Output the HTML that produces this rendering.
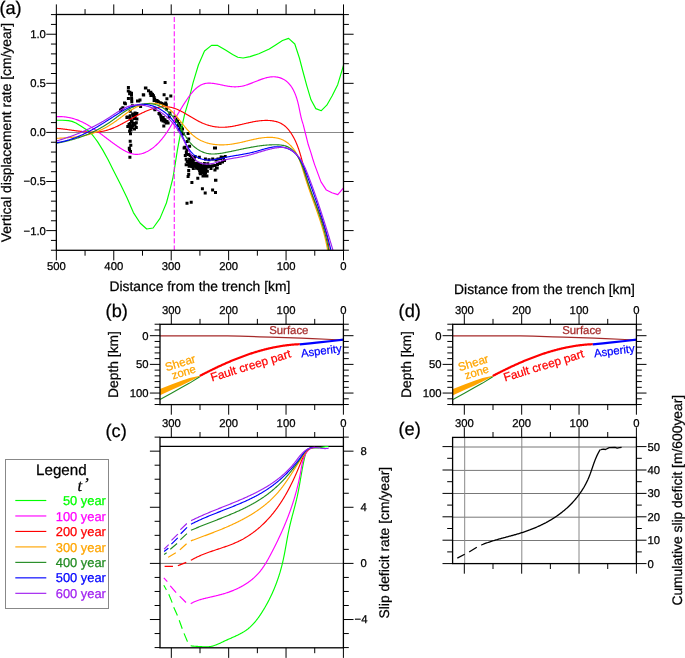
<!DOCTYPE html>
<html><head><meta charset="utf-8"><style>
html,body{margin:0;padding:0;background:#fff;}
svg{display:block;font-family:"Liberation Sans", sans-serif;will-change:transform;text-rendering:geometricPrecision;}
</style></head><body>
<svg width="685" height="658" viewBox="0 0 685 658">
<rect width="685" height="658" fill="#fff"/>
<line x1="343.5" y1="14.5" x2="343.5" y2="4.4" stroke="#000" stroke-width="1.0" />
<line x1="343.5" y1="250.3" x2="343.5" y2="260.4" stroke="#000" stroke-width="1.0" />
<line x1="314.78" y1="14.5" x2="314.78" y2="9.1" stroke="#000" stroke-width="1.0" />
<line x1="314.78" y1="250.3" x2="314.78" y2="255.7" stroke="#000" stroke-width="1.0" />
<line x1="286.07" y1="14.5" x2="286.07" y2="4.4" stroke="#000" stroke-width="1.0" />
<line x1="286.07" y1="250.3" x2="286.07" y2="260.4" stroke="#000" stroke-width="1.0" />
<line x1="257.36" y1="14.5" x2="257.36" y2="9.1" stroke="#000" stroke-width="1.0" />
<line x1="257.36" y1="250.3" x2="257.36" y2="255.7" stroke="#000" stroke-width="1.0" />
<line x1="228.64" y1="14.5" x2="228.64" y2="4.4" stroke="#000" stroke-width="1.0" />
<line x1="228.64" y1="250.3" x2="228.64" y2="260.4" stroke="#000" stroke-width="1.0" />
<line x1="199.92" y1="14.5" x2="199.92" y2="9.1" stroke="#000" stroke-width="1.0" />
<line x1="199.92" y1="250.3" x2="199.92" y2="255.7" stroke="#000" stroke-width="1.0" />
<line x1="171.21" y1="14.5" x2="171.21" y2="4.4" stroke="#000" stroke-width="1.0" />
<line x1="171.21" y1="250.3" x2="171.21" y2="260.4" stroke="#000" stroke-width="1.0" />
<line x1="142.49" y1="14.5" x2="142.49" y2="9.1" stroke="#000" stroke-width="1.0" />
<line x1="142.49" y1="250.3" x2="142.49" y2="255.7" stroke="#000" stroke-width="1.0" />
<line x1="113.78" y1="14.5" x2="113.78" y2="4.4" stroke="#000" stroke-width="1.0" />
<line x1="113.78" y1="250.3" x2="113.78" y2="260.4" stroke="#000" stroke-width="1.0" />
<line x1="85.06" y1="14.5" x2="85.06" y2="9.1" stroke="#000" stroke-width="1.0" />
<line x1="85.06" y1="250.3" x2="85.06" y2="255.7" stroke="#000" stroke-width="1.0" />
<line x1="56.35" y1="14.5" x2="56.35" y2="4.4" stroke="#000" stroke-width="1.0" />
<line x1="56.35" y1="250.3" x2="56.35" y2="260.4" stroke="#000" stroke-width="1.0" />
<line x1="56.35" y1="250.24" x2="50.95" y2="250.24" stroke="#000" stroke-width="1.0" />
<line x1="343.5" y1="250.24" x2="348.9" y2="250.24" stroke="#000" stroke-width="1.0" />
<line x1="56.35" y1="240.42" x2="50.95" y2="240.42" stroke="#000" stroke-width="1.0" />
<line x1="343.5" y1="240.42" x2="348.9" y2="240.42" stroke="#000" stroke-width="1.0" />
<line x1="56.35" y1="230.6" x2="46.25" y2="230.6" stroke="#000" stroke-width="1.0" />
<line x1="343.5" y1="230.6" x2="353.6" y2="230.6" stroke="#000" stroke-width="1.0" />
<line x1="56.35" y1="220.78" x2="50.95" y2="220.78" stroke="#000" stroke-width="1.0" />
<line x1="343.5" y1="220.78" x2="348.9" y2="220.78" stroke="#000" stroke-width="1.0" />
<line x1="56.35" y1="210.96" x2="50.95" y2="210.96" stroke="#000" stroke-width="1.0" />
<line x1="343.5" y1="210.96" x2="348.9" y2="210.96" stroke="#000" stroke-width="1.0" />
<line x1="56.35" y1="201.15" x2="50.95" y2="201.15" stroke="#000" stroke-width="1.0" />
<line x1="343.5" y1="201.15" x2="348.9" y2="201.15" stroke="#000" stroke-width="1.0" />
<line x1="56.35" y1="191.33" x2="50.95" y2="191.33" stroke="#000" stroke-width="1.0" />
<line x1="343.5" y1="191.33" x2="348.9" y2="191.33" stroke="#000" stroke-width="1.0" />
<line x1="56.35" y1="181.51" x2="46.25" y2="181.51" stroke="#000" stroke-width="1.0" />
<line x1="343.5" y1="181.51" x2="353.6" y2="181.51" stroke="#000" stroke-width="1.0" />
<line x1="56.35" y1="171.69" x2="50.95" y2="171.69" stroke="#000" stroke-width="1.0" />
<line x1="343.5" y1="171.69" x2="348.9" y2="171.69" stroke="#000" stroke-width="1.0" />
<line x1="56.35" y1="161.87" x2="50.95" y2="161.87" stroke="#000" stroke-width="1.0" />
<line x1="343.5" y1="161.87" x2="348.9" y2="161.87" stroke="#000" stroke-width="1.0" />
<line x1="56.35" y1="152.06" x2="50.95" y2="152.06" stroke="#000" stroke-width="1.0" />
<line x1="343.5" y1="152.06" x2="348.9" y2="152.06" stroke="#000" stroke-width="1.0" />
<line x1="56.35" y1="142.24" x2="50.95" y2="142.24" stroke="#000" stroke-width="1.0" />
<line x1="343.5" y1="142.24" x2="348.9" y2="142.24" stroke="#000" stroke-width="1.0" />
<line x1="56.35" y1="132.42" x2="46.25" y2="132.42" stroke="#000" stroke-width="1.0" />
<line x1="343.5" y1="132.42" x2="353.6" y2="132.42" stroke="#000" stroke-width="1.0" />
<line x1="56.35" y1="122.6" x2="50.95" y2="122.6" stroke="#000" stroke-width="1.0" />
<line x1="343.5" y1="122.6" x2="348.9" y2="122.6" stroke="#000" stroke-width="1.0" />
<line x1="56.35" y1="112.78" x2="50.95" y2="112.78" stroke="#000" stroke-width="1.0" />
<line x1="343.5" y1="112.78" x2="348.9" y2="112.78" stroke="#000" stroke-width="1.0" />
<line x1="56.35" y1="102.97" x2="50.95" y2="102.97" stroke="#000" stroke-width="1.0" />
<line x1="343.5" y1="102.97" x2="348.9" y2="102.97" stroke="#000" stroke-width="1.0" />
<line x1="56.35" y1="93.15" x2="50.95" y2="93.15" stroke="#000" stroke-width="1.0" />
<line x1="343.5" y1="93.15" x2="348.9" y2="93.15" stroke="#000" stroke-width="1.0" />
<line x1="56.35" y1="83.33" x2="46.25" y2="83.33" stroke="#000" stroke-width="1.0" />
<line x1="343.5" y1="83.33" x2="353.6" y2="83.33" stroke="#000" stroke-width="1.0" />
<line x1="56.35" y1="73.51" x2="50.95" y2="73.51" stroke="#000" stroke-width="1.0" />
<line x1="343.5" y1="73.51" x2="348.9" y2="73.51" stroke="#000" stroke-width="1.0" />
<line x1="56.35" y1="63.69" x2="50.95" y2="63.69" stroke="#000" stroke-width="1.0" />
<line x1="343.5" y1="63.69" x2="348.9" y2="63.69" stroke="#000" stroke-width="1.0" />
<line x1="56.35" y1="53.88" x2="50.95" y2="53.88" stroke="#000" stroke-width="1.0" />
<line x1="343.5" y1="53.88" x2="348.9" y2="53.88" stroke="#000" stroke-width="1.0" />
<line x1="56.35" y1="44.06" x2="50.95" y2="44.06" stroke="#000" stroke-width="1.0" />
<line x1="343.5" y1="44.06" x2="348.9" y2="44.06" stroke="#000" stroke-width="1.0" />
<line x1="56.35" y1="34.24" x2="46.25" y2="34.24" stroke="#000" stroke-width="1.0" />
<line x1="343.5" y1="34.24" x2="353.6" y2="34.24" stroke="#000" stroke-width="1.0" />
<line x1="56.35" y1="24.42" x2="50.95" y2="24.42" stroke="#000" stroke-width="1.0" />
<line x1="343.5" y1="24.42" x2="348.9" y2="24.42" stroke="#000" stroke-width="1.0" />
<line x1="56.35" y1="14.6" x2="50.95" y2="14.6" stroke="#000" stroke-width="1.0" />
<line x1="343.5" y1="14.6" x2="348.9" y2="14.6" stroke="#000" stroke-width="1.0" />
<text x="343.5" y="269.6" font-size="11.3" text-anchor="middle" fill="#000"  stroke="#000" stroke-width="0.25">0</text>
<text x="286.07" y="269.6" font-size="11.3" text-anchor="middle" fill="#000"  stroke="#000" stroke-width="0.25">100</text>
<text x="228.64" y="269.6" font-size="11.3" text-anchor="middle" fill="#000"  stroke="#000" stroke-width="0.25">200</text>
<text x="171.21" y="269.6" font-size="11.3" text-anchor="middle" fill="#000"  stroke="#000" stroke-width="0.25">300</text>
<text x="113.78" y="269.6" font-size="11.3" text-anchor="middle" fill="#000"  stroke="#000" stroke-width="0.25">400</text>
<text x="56.35" y="269.6" font-size="11.3" text-anchor="middle" fill="#000"  stroke="#000" stroke-width="0.25">500</text>
<text x="45.9" y="38.14" font-size="11.3" text-anchor="end" fill="#000"  stroke="#000" stroke-width="0.25">1.0</text>
<text x="45.9" y="87.23" font-size="11.3" text-anchor="end" fill="#000"  stroke="#000" stroke-width="0.25">0.5</text>
<text x="45.9" y="136.32" font-size="11.3" text-anchor="end" fill="#000"  stroke="#000" stroke-width="0.25">0.0</text>
<text x="45.9" y="185.41" font-size="11.3" text-anchor="end" fill="#000"  stroke="#000" stroke-width="0.25">−0.5</text>
<text x="45.9" y="234.5" font-size="11.3" text-anchor="end" fill="#000"  stroke="#000" stroke-width="0.25">−1.0</text>
<text x="199.9" y="291" font-size="13.85" text-anchor="middle" fill="#000"  stroke="#000" stroke-width="0.25">Distance from the trench [km]</text>
<text transform="translate(10.6,132.5) rotate(-90)" font-size="13.85" text-anchor="middle" stroke="#000" stroke-width="0.25">Vertical displacement rate [cm/year]</text>
<text x="-0.6" y="13.6" font-size="18.2" stroke="#000" stroke-width="0.25">(a)</text>
<line x1="56.35" y1="132.5" x2="343.5" y2="132.5" stroke="#888" stroke-width="1" />
<clipPath id="ca"><rect x="56.35" y="14.5" width="287.15" height="235.8"/></clipPath>
<g clip-path="url(#ca)"><path d="M126.9,85.9h3.0v3.0h-3.0zM126.8,89.6h3.0v3.0h-3.0zM128.4,90.8h3.0v3.0h-3.0zM130,91.7h3.0v3.0h-3.0zM130,93.2h3.0v3.0h-3.0zM128.1,92.3h3.0v3.0h-3.0zM126.9,96.9h3.0v3.0h-3.0zM130.1,96.6h3.0v3.0h-3.0zM130.3,100.2h3.0v3.0h-3.0zM123,101.4h3.0v3.0h-3.0zM123.9,102.3h3.0v3.0h-3.0zM121.4,106.3h3.0v3.0h-3.0zM120.2,107.5h3.0v3.0h-3.0zM119,108.4h3.0v3.0h-3.0zM136,99.6h3.0v3.0h-3.0zM138.5,98.4h3.0v3.0h-3.0zM137.2,99.6h3.0v3.0h-3.0zM143.9,86.5h3.0v3.0h-3.0zM141.8,93.2h3.0v3.0h-3.0zM147,89.3h3.0v3.0h-3.0zM148.8,91.7h3.0v3.0h-3.0zM149.4,94.1h3.0v3.0h-3.0zM130.9,104.2h3.0v3.0h-3.0zM139.1,105.1h3.0v3.0h-3.0zM134.2,112.4h3.0v3.0h-3.0zM131.2,112.4h3.0v3.0h-3.0zM128.7,114.2h3.0v3.0h-3.0zM125.7,115.4h3.0v3.0h-3.0zM125.4,116.1h3.0v3.0h-3.0zM128.7,109.7h3.0v3.0h-3.0zM133.6,111.5h3.0v3.0h-3.0zM135.4,112.1h3.0v3.0h-3.0zM128.7,114.6h3.0v3.0h-3.0zM133.6,115.2h3.0v3.0h-3.0zM135.4,117.6h3.0v3.0h-3.0zM128.7,117.6h3.0v3.0h-3.0zM130.6,119.4h3.0v3.0h-3.0zM128.7,121.9h3.0v3.0h-3.0zM134.8,121.3h3.0v3.0h-3.0zM126.3,124.9h3.0v3.0h-3.0zM128.7,124.3h3.0v3.0h-3.0zM131.2,124.3h3.0v3.0h-3.0zM134.8,126.1h3.0v3.0h-3.0zM128.7,127.3h3.0v3.0h-3.0zM128.1,129.8h3.0v3.0h-3.0zM129,132.2h3.0v3.0h-3.0zM128.7,139.8h3.0v3.0h-3.0zM129.3,143.8h3.0v3.0h-3.0zM127.8,146.8h3.0v3.0h-3.0zM128.1,148.2h3.0v3.0h-3.0zM129,150.1h3.0v3.0h-3.0zM128.4,155.8h3.0v3.0h-3.0zM132,114h3.0v3.0h-3.0zM132.5,117h3.0v3.0h-3.0zM130,120.5h3.0v3.0h-3.0zM132,122h3.0v3.0h-3.0zM133.5,123.5h3.0v3.0h-3.0zM130,126h3.0v3.0h-3.0zM133,127.5h3.0v3.0h-3.0zM129.5,128.5h3.0v3.0h-3.0zM127.5,123h3.0v3.0h-3.0zM144.4,86.6h3.0v3.0h-3.0zM147.1,89.3h3.0v3.0h-3.0zM149.3,90.8h3.0v3.0h-3.0zM150.2,92.3h3.0v3.0h-3.0zM152,94.2h3.0v3.0h-3.0zM152.6,96h3.0v3.0h-3.0zM153.2,97.8h3.0v3.0h-3.0zM155.1,99h3.0v3.0h-3.0zM156.9,100.2h3.0v3.0h-3.0zM158.7,101.2h3.0v3.0h-3.0zM160.5,102.1h3.0v3.0h-3.0zM163.6,81.1h3.0v3.0h-3.0zM162.6,93.3h3.0v3.0h-3.0zM169.3,94.5h3.0v3.0h-3.0zM165.4,97.2h3.0v3.0h-3.0zM164.2,101.5h3.0v3.0h-3.0zM164.8,103.3h3.0v3.0h-3.0zM165.1,107.5h3.0v3.0h-3.0zM168.4,111.5h3.0v3.0h-3.0zM153.5,108.2h3.0v3.0h-3.0zM158.1,112.4h3.0v3.0h-3.0zM152.6,99.1h3.0v3.0h-3.0zM155.1,99.7h3.0v3.0h-3.0zM153.2,107.6h3.0v3.0h-3.0zM157.5,111.9h3.0v3.0h-3.0zM159.3,114.3h3.0v3.0h-3.0zM159.9,117.3h3.0v3.0h-3.0zM161.7,116.1h3.0v3.0h-3.0zM163.6,118.6h3.0v3.0h-3.0zM164.8,120.4h3.0v3.0h-3.0zM162.3,124.6h3.0v3.0h-3.0zM166.6,121.6h3.0v3.0h-3.0zM168.4,111.9h3.0v3.0h-3.0zM167.8,115.5h3.0v3.0h-3.0zM173.3,115.5h3.0v3.0h-3.0zM175.1,119.8h3.0v3.0h-3.0zM176.9,124h3.0v3.0h-3.0zM178.8,126.5h3.0v3.0h-3.0zM177.5,128.3h3.0v3.0h-3.0zM180,130.1h3.0v3.0h-3.0zM181.8,132.5h3.0v3.0h-3.0zM142.2,93.6h3.0v3.0h-3.0zM151,93h3.0v3.0h-3.0zM156,99.5h3.0v3.0h-3.0zM159.5,101.7h3.0v3.0h-3.0zM162,103h3.0v3.0h-3.0zM186.6,132h3.0v3.0h-3.0zM187.2,137.5h3.0v3.0h-3.0zM185.7,139.9h3.0v3.0h-3.0zM188.1,144.8h3.0v3.0h-3.0zM182.6,146.6h3.0v3.0h-3.0zM183.8,153.9h3.0v3.0h-3.0zM185.7,160h3.0v3.0h-3.0zM188.7,153.9h3.0v3.0h-3.0zM191.7,160h3.0v3.0h-3.0zM193.6,155.1h3.0v3.0h-3.0zM197.8,155.7h3.0v3.0h-3.0zM203.9,157.5h3.0v3.0h-3.0zM207.5,158.2h3.0v3.0h-3.0zM211.2,157.5h3.0v3.0h-3.0zM213,146.6h3.0v3.0h-3.0zM195.4,162.4h3.0v3.0h-3.0zM214,146.5h3.0v3.0h-3.0zM187.2,169.1h3.0v3.0h-3.0zM187.2,172.7h3.0v3.0h-3.0zM186.6,175h3.0v3.0h-3.0zM196.3,176.7h3.0v3.0h-3.0zM190.4,180.9h3.0v3.0h-3.0zM214,178.7h3.0v3.0h-3.0zM200.9,187.3h3.0v3.0h-3.0zM203.7,191.5h3.0v3.0h-3.0zM211.1,188.5h3.0v3.0h-3.0zM214,191h3.0v3.0h-3.0zM185.5,201.8h3.0v3.0h-3.0zM189.7,200.7h3.0v3.0h-3.0zM213.4,168.4h3.0v3.0h-3.0zM215.7,166.5h3.0v3.0h-3.0zM218.6,161.9h3.0v3.0h-3.0zM223.7,155h3.0v3.0h-3.0zM219.7,155.6h3.0v3.0h-3.0zM198.5,171.5h3.0v3.0h-3.0zM201.6,167.8h3.0v3.0h-3.0zM204,170.9h3.0v3.0h-3.0zM202.8,174.5h3.0v3.0h-3.0zM208.9,164.8h3.0v3.0h-3.0zM211.3,164.2h3.0v3.0h-3.0zM215,166.6h3.0v3.0h-3.0zM213.5,168.5h3.0v3.0h-3.0zM214.4,178.8h3.0v3.0h-3.0zM218,161.7h3.0v3.0h-3.0zM216.5,157.5h3.0v3.0h-3.0zM219.5,157h3.0v3.0h-3.0zM222,156h3.0v3.0h-3.0zM214.5,158.5h3.0v3.0h-3.0zM198.5,163.5h3.0v3.0h-3.0zM201,164.5h3.0v3.0h-3.0zM203.5,165h3.0v3.0h-3.0zM206,165.5h3.0v3.0h-3.0zM208.5,165h3.0v3.0h-3.0zM211,164.5h3.0v3.0h-3.0zM213.5,164h3.0v3.0h-3.0zM216,163h3.0v3.0h-3.0zM218.5,162h3.0v3.0h-3.0zM221,160.5h3.0v3.0h-3.0zM223,159h3.0v3.0h-3.0zM202,167h3.0v3.0h-3.0zM204.5,168h3.0v3.0h-3.0zM209.5,167h3.0v3.0h-3.0zM192.5,164.5h3.0v3.0h-3.0zM195.5,165.5h3.0v3.0h-3.0zM197.5,167h3.0v3.0h-3.0zM130.2,98.3h3.0v3.0h-3.0zM159.5,115.5h3.0v3.0h-3.0zM161,117h3.0v3.0h-3.0zM162.5,118h3.0v3.0h-3.0zM161.5,119.5h3.0v3.0h-3.0zM163.5,120.5h3.0v3.0h-3.0zM165,121.5h3.0v3.0h-3.0zM160,118.5h3.0v3.0h-3.0zM165.5,120h3.0v3.0h-3.0zM174.5,117.5h3.0v3.0h-3.0zM176,119.5h3.0v3.0h-3.0zM177.5,122h3.0v3.0h-3.0zM178.5,124h3.0v3.0h-3.0zM180,126h3.0v3.0h-3.0zM181,127.5h3.0v3.0h-3.0zM183.39,145.73h3.0v3.0h-3.0zM185.58,148.53h3.0v3.0h-3.0zM184.85,150.62h3.0v3.0h-3.0zM184.87,152.55h3.0v3.0h-3.0zM187.05,152.91h3.0v3.0h-3.0zM190.06,155.07h3.0v3.0h-3.0zM191.44,156.25h3.0v3.0h-3.0zM184.71,157.77h3.0v3.0h-3.0zM188.06,157.67h3.0v3.0h-3.0zM189.83,158.55h3.0v3.0h-3.0zM192.67,157.9h3.0v3.0h-3.0zM187.31,160.38h3.0v3.0h-3.0zM189.72,160.51h3.0v3.0h-3.0zM184.65,163.22h3.0v3.0h-3.0zM187.38,163.28h3.0v3.0h-3.0zM189.16,162.39h3.0v3.0h-3.0zM191.74,162.01h3.0v3.0h-3.0zM194.66,161.73h3.0v3.0h-3.0zM196.5,161.73h3.0v3.0h-3.0zM199.1,162.52h3.0v3.0h-3.0zM202.87,162.12h3.0v3.0h-3.0zM206.25,162.13h3.0v3.0h-3.0zM187.7,164.68h3.0v3.0h-3.0zM190.4,165.02h3.0v3.0h-3.0zM191.33,165.37h3.0v3.0h-3.0zM194.88,164.73h3.0v3.0h-3.0zM196.68,165.48h3.0v3.0h-3.0zM198.31,164.84h3.0v3.0h-3.0zM200.58,164.26h3.0v3.0h-3.0zM203.02,164.5h3.0v3.0h-3.0zM206.22,164.46h3.0v3.0h-3.0zM207.58,164.56h3.0v3.0h-3.0zM191.83,167.11h3.0v3.0h-3.0zM195.07,166.85h3.0v3.0h-3.0zM196.93,167.32h3.0v3.0h-3.0zM198.66,166.39h3.0v3.0h-3.0zM200.51,167.49h3.0v3.0h-3.0zM202.96,166.44h3.0v3.0h-3.0zM198.11,169.02h3.0v3.0h-3.0zM201.04,168.67h3.0v3.0h-3.0zM203.19,168.97h3.0v3.0h-3.0zM205.85,169.8h3.0v3.0h-3.0zM199.03,172.33h3.0v3.0h-3.0zM201.51,171.27h3.0v3.0h-3.0zM202.91,171.48h3.0v3.0h-3.0zM201.49,174.43h3.0v3.0h-3.0zM203.73,173.32h3.0v3.0h-3.0zM205.41,174.39h3.0v3.0h-3.0z" fill="#000"/>
<path d="M56.35,120.2 L62.4,120.3 L68.4,120.6 L72,121.4 L75.9,123 L80.8,125.9 L85.8,129.2 L88.3,130.8 L90.3,132.6 L92.6,135.2 L94.8,138 L97.5,141.6 L102.8,150.1 L108.1,159.7 L113.2,170 L120.6,184.4 L127,197.7 L133.4,212.6 L140.3,223.2 L146.7,229 L153.1,228 L160,218.4 L166.4,203 L170.1,189.1 L172.8,178.5 L174.3,169.9 L177.3,150.7 L180.9,131.3 L184.6,114.3 L188.8,100.1 L193.1,82.6 L198.4,65 L204.5,51 L211.5,45.4 L217.7,45.4 L225.5,50.1 L232.6,54.5 L237.8,57.2 L243.1,58 L250.1,56.6 L258.8,53.7 L269.3,48.9 L276.4,44.4 L282.5,40.5 L288.6,38.4 L294.8,44 L299.4,58 L302.8,71 L306.9,86.1 L311,99.8 L315.8,108.6 L321.3,110.7 L326.8,105.2 L332.2,95.7 L337.7,84.7 L343.5,65.5" fill="none" stroke="#00ff00" stroke-width="1.15" stroke-linejoin="round"/>
<path d="M55.97,116.74 56.75,116.69 57.53,116.66 58.3,116.64 59.07,116.62 59.83,116.62 60.59,116.64 61.34,116.66 62.08,116.69 62.82,116.74 63.56,116.79 64.28,116.86 65.01,116.93 65.73,117.02 66.44,117.11 67.15,117.22 67.85,117.34 68.55,117.46 69.24,117.6 69.93,117.74 70.62,117.89 71.3,118.06 71.97,118.23 72.64,118.41 73.31,118.6 73.97,118.79 74.63,119 75.29,119.21 75.94,119.43 76.59,119.66 77.23,119.9 77.87,120.14 78.51,120.39 79.14,120.65 79.77,120.92 80.4,121.19 81.02,121.47 81.64,121.76 82.26,122.05 82.87,122.35 83.49,122.66 84.1,122.97 84.7,123.28 85.31,123.61 85.91,123.94 86.51,124.27 87.1,124.61 87.7,124.95 88.29,125.3 88.88,125.66 89.47,126.02 90.05,126.38 90.64,126.75 91.22,127.12 91.8,127.5 92.38,127.88 92.96,128.26 93.53,128.65 94.11,129.04 94.68,129.44 95.25,129.83 95.82,130.24 96.4,130.64 96.96,131.05 97.53,131.46 98.1,131.87 98.67,132.28 99.24,132.7 99.8,133.12 100.37,133.54 100.93,133.96 101.5,134.38 102.06,134.81 102.63,135.24 103.19,135.66 103.76,136.09 104.32,136.52 104.89,136.95 105.46,137.38 106.02,137.81 106.59,138.24 107.16,138.68 107.72,139.11 108.29,139.54 108.86,139.97 109.43,140.4 110.01,140.83 110.58,141.26 111.15,141.69 111.73,142.11 112.3,142.54 112.88,142.96 113.46,143.39 114.04,143.81 114.63,144.23 115.21,144.65 115.8,145.06 116.39,145.47 116.98,145.88 117.57,146.29 118.16,146.7 118.76,147.1 119.36,147.5 119.96,147.9 120.57,148.29 121.17,148.67 121.78,149.06 122.39,149.43 123.01,149.8 123.62,150.16 124.24,150.51 124.86,150.85 125.48,151.18 126.11,151.5 126.73,151.81 127.36,152.1 127.99,152.38 128.62,152.65 129.26,152.9 129.89,153.13 130.53,153.35 131.17,153.54 131.81,153.72 132.45,153.88 133.09,154.02 133.74,154.14 134.38,154.23 135.03,154.31 135.68,154.36 136.33,154.38 136.98,154.38 137.63,154.35 138.29,154.3 138.94,154.23 139.59,154.13 140.24,154.02 140.89,153.88 141.54,153.72 142.19,153.54 142.84,153.34 143.48,153.12 144.12,152.89 144.76,152.64 145.39,152.37 146.02,152.08 146.64,151.79 147.26,151.47 147.88,151.15 148.49,150.81 149.09,150.46 149.69,150.09 150.28,149.72 150.86,149.33 151.44,148.94 152.01,148.54 152.57,148.13 153.12,147.7 153.67,147.27 154.21,146.84 154.75,146.39 155.28,145.93 155.8,145.47 156.32,145 156.83,144.52 157.33,144.03 157.83,143.54 158.32,143.04 158.81,142.53 159.29,142.02 159.77,141.5 160.24,140.97 160.71,140.44 161.17,139.9 161.62,139.36 162.07,138.81 162.52,138.25 162.96,137.69 163.4,137.13 163.83,136.56 164.26,135.99 164.68,135.41 165.1,134.83 165.52,134.24 165.93,133.66 166.34,133.07 166.74,132.47 167.15,131.87 167.54,131.27 167.94,130.67 168.33,130.07 168.72,129.46 169.1,128.85 169.49,128.24 169.87,127.63 170.24,127.02 170.62,126.4 170.99,125.79 171.36,125.17 171.73,124.56 172.09,123.94 172.46,123.32 172.82,122.71 173.18,122.09 173.54,121.48 173.9,120.86 174.25,120.25 174.6,119.64 174.96,119.03 175.31,118.42 175.66,117.81 176.01,117.21 176.36,116.61 176.71,116.01 177.06,115.41 177.41,114.81 177.75,114.22 178.1,113.63 178.45,113.04 178.8,112.45 179.15,111.86 179.5,111.27 179.85,110.69 180.2,110.1 180.55,109.52 180.91,108.93 181.26,108.35 181.62,107.77 181.98,107.18 182.34,106.6 182.71,106.02 183.08,105.43 183.45,104.85 183.82,104.27 184.19,103.68 184.57,103.1 184.95,102.51 185.34,101.92 185.73,101.33 186.12,100.74 186.52,100.15 186.92,99.55 187.32,98.96 187.73,98.36 188.15,97.77 188.56,97.18 188.99,96.58 189.42,96 189.85,95.41 190.29,94.83 190.73,94.26 191.18,93.69 191.64,93.13 192.1,92.58 192.56,92.03 193.03,91.49 193.51,90.97 193.99,90.45 194.49,89.95 194.98,89.45 195.48,88.97 195.99,88.51 196.51,88.05 197.03,87.62 197.56,87.2 198.1,86.79 198.65,86.41 199.2,86.04 199.76,85.69 200.32,85.36 200.9,85.05 201.48,84.76 202.07,84.49 202.67,84.25 203.28,84.03 203.89,83.84 204.52,83.67 205.15,83.52 205.79,83.4 206.44,83.3 207.09,83.23 207.76,83.18 208.42,83.14 209.1,83.13 209.78,83.14 210.47,83.16 211.16,83.2 211.85,83.25 212.55,83.32 213.26,83.4 213.97,83.49 214.68,83.6 215.39,83.71 216.1,83.83 216.82,83.96 217.54,84.1 218.26,84.24 218.98,84.39 219.7,84.54 220.42,84.69 221.14,84.85 221.86,85 222.58,85.16 223.29,85.31 224.01,85.46 224.72,85.61 225.42,85.75 226.13,85.89 226.83,86.02 227.53,86.14 228.22,86.25 228.91,86.35 229.59,86.44 230.27,86.53 230.95,86.6 231.63,86.66 232.3,86.72 232.97,86.76 233.63,86.79 234.3,86.81 234.96,86.82 235.62,86.82 236.28,86.8 236.94,86.78 237.6,86.74 238.26,86.69 238.91,86.63 239.57,86.55 240.23,86.46 240.89,86.36 241.55,86.25 242.21,86.12 242.87,85.97 243.53,85.82 244.2,85.65 244.87,85.47 245.53,85.27 246.2,85.07 246.87,84.85 247.55,84.63 248.22,84.39 248.9,84.15 249.57,83.91 250.25,83.65 250.93,83.39 251.61,83.13 252.29,82.86 252.97,82.59 253.65,82.32 254.33,82.04 255.02,81.76 255.7,81.49 256.39,81.21 257.07,80.94 257.76,80.67 258.44,80.4 259.13,80.13 259.82,79.87 260.5,79.62 261.19,79.37 261.88,79.12 262.57,78.89 263.25,78.66 263.94,78.45 264.63,78.24 265.32,78.04 266,77.85 266.69,77.68 267.38,77.52 268.06,77.37 268.75,77.24 269.44,77.13 270.12,77.02 270.8,76.94 271.49,76.87 272.17,76.83 272.85,76.8 273.53,76.79 274.21,76.8 274.89,76.83 275.57,76.89 276.25,76.96 276.92,77.06 277.59,77.18 278.26,77.32 278.92,77.49 279.57,77.67 280.22,77.88 280.86,78.1 281.49,78.34 282.12,78.61 282.73,78.9 283.33,79.2 283.92,79.52 284.5,79.87 285.06,80.23 285.61,80.61 286.15,81.01 286.68,81.43 287.19,81.87 287.68,82.32 288.17,82.79 288.64,83.27 289.1,83.77 289.55,84.28 289.98,84.81 290.4,85.35 290.82,85.9 291.22,86.47 291.6,87.04 291.98,87.63 292.35,88.23 292.7,88.84 293.05,89.46 293.38,90.09 293.71,90.73 294.02,91.38 294.33,92.03 294.62,92.69 294.91,93.36 295.19,94.03 295.46,94.71 295.72,95.39 295.97,96.08 296.21,96.77 296.44,97.47 296.67,98.16 296.89,98.86 297.1,99.57 297.3,100.27 297.5,100.97 297.68,101.68 297.87,102.38 298.04,103.08 298.21,103.78 298.37,104.48 298.53,105.18 298.69,105.88 298.84,106.58 298.98,107.27 299.13,107.97 299.27,108.66 299.41,109.35 299.55,110.04 299.69,110.73 299.82,111.41 299.96,112.1 300.1,112.78 300.24,113.46 300.38,114.14 300.52,114.81 300.67,115.49 300.82,116.16 300.97,116.83 301.13,117.49 301.3,118.16 301.47,118.82 301.64,119.48 301.82,120.13 302.01,120.79 302.21,121.44 302.41,122.08 302.62,122.73 302.84,123.37 303.08,124" fill="none" stroke="#ff00ff" stroke-width="1.15"/>
<path d="M303.1,124.1 L305.7,134.5 L308.3,144.8 L310.9,152.6 L312.8,159 L314.6,164.6 L321,181.9 L326.4,190.1 L331.9,192.8 L337.8,194.6 L343.5,187.9" fill="none" stroke="#ff00ff" stroke-width="1.15" stroke-linejoin="round"/>
<path d="M56.5,128.39 57.13,128.42 57.77,128.47 58.42,128.52 59.07,128.57 59.72,128.63 60.38,128.69 61.04,128.76 61.71,128.83 62.38,128.91 63.05,128.99 63.73,129.07 64.41,129.15 65.09,129.24 65.78,129.33 66.47,129.42 67.16,129.52 67.86,129.61 68.55,129.71 69.25,129.81 69.96,129.91 70.66,130.01 71.37,130.11 72.08,130.21 72.79,130.32 73.5,130.42 74.22,130.52 74.93,130.62 75.65,130.72 76.37,130.81 77.09,130.91 77.81,131 78.53,131.1 79.25,131.19 79.98,131.27 80.7,131.36 81.42,131.44 82.15,131.52 82.87,131.6 83.59,131.67 84.32,131.74 85.04,131.8 85.76,131.86 86.48,131.91 87.21,131.96 87.93,132.01 88.65,132.05 89.36,132.08 90.08,132.11 90.8,132.13 91.51,132.14 92.23,132.15 92.94,132.15 93.65,132.14 94.35,132.13 95.06,132.11 95.76,132.08 96.46,132.04 97.16,132 97.86,131.94 98.55,131.88 99.24,131.81 99.92,131.72 100.61,131.63 101.29,131.53 101.97,131.42 102.64,131.3 103.31,131.17 103.98,131.02 104.64,130.87 105.3,130.71 105.96,130.54 106.61,130.36 107.26,130.17 107.91,129.98 108.56,129.77 109.21,129.56 109.85,129.34 110.49,129.11 111.13,128.87 111.76,128.63 112.4,128.38 113.03,128.12 113.66,127.86 114.29,127.59 114.92,127.32 115.54,127.03 116.17,126.75 116.79,126.46 117.42,126.16 118.04,125.86 118.66,125.55 119.28,125.24 119.9,124.92 120.52,124.6 121.14,124.28 121.76,123.95 122.38,123.62 123,123.29 123.62,122.96 124.24,122.62 124.86,122.28 125.48,121.93 126.1,121.59 126.72,121.24 127.35,120.9 127.97,120.55 128.59,120.2 129.22,119.85 129.85,119.5 130.47,119.15 131.1,118.79 131.73,118.44 132.37,118.09 133,117.74 133.63,117.4 134.27,117.05 134.9,116.7 135.54,116.36 136.17,116.02 136.81,115.68 137.45,115.34 138.09,115 138.73,114.67 139.37,114.34 140.01,114.02 140.66,113.7 141.3,113.38 141.94,113.07 142.59,112.76 143.23,112.46 143.88,112.16 144.53,111.86 145.17,111.58 145.82,111.29 146.47,111.02 147.12,110.75 147.76,110.48 148.41,110.23 149.06,109.98 149.71,109.73 150.36,109.5 151.01,109.27 151.66,109.05 152.31,108.84 152.96,108.64 153.62,108.44 154.27,108.26 154.92,108.08 155.57,107.92 156.22,107.76 156.87,107.61 157.52,107.48 158.18,107.35 158.83,107.23 159.48,107.13 160.13,107.04 160.78,106.96 161.43,106.89 162.08,106.83 162.74,106.78 163.39,106.75 164.04,106.73 164.69,106.72 165.34,106.73 165.99,106.75 166.63,106.78 167.28,106.82 167.93,106.89 168.58,106.96 169.23,107.05 169.87,107.16 170.52,107.28 171.17,107.41 171.81,107.56 172.46,107.73 173.1,107.91 173.74,108.11 174.39,108.32 175.03,108.54 175.67,108.78 176.31,109.03 176.96,109.29 177.6,109.57 178.24,109.85 178.88,110.15 179.52,110.45 180.16,110.76 180.8,111.09 181.44,111.42 182.08,111.75 182.72,112.1 183.36,112.45 184,112.81 184.64,113.17 185.28,113.54 185.93,113.91 186.57,114.28 187.21,114.66 187.85,115.04 188.49,115.42 189.13,115.81 189.78,116.19 190.42,116.58 191.06,116.96 191.71,117.35 192.35,117.73 192.99,118.11 193.64,118.49 194.29,118.87 194.93,119.24 195.58,119.61 196.23,119.97 196.88,120.33 197.53,120.68 198.18,121.03 198.83,121.37 199.48,121.7 200.13,122.02 200.79,122.34 201.44,122.65 202.1,122.94 202.76,123.23 203.41,123.51 204.07,123.77 204.73,124.03 205.4,124.28 206.06,124.52 206.72,124.74 207.38,124.96 208.05,125.17 208.72,125.37 209.38,125.55 210.05,125.73 210.72,125.9 211.39,126.06 212.06,126.21 212.73,126.35 213.4,126.48 214.07,126.6 214.74,126.71 215.42,126.81 216.09,126.9 216.77,126.98 217.44,127.05 218.12,127.11 218.79,127.17 219.47,127.21 220.15,127.25 220.83,127.27 221.5,127.29 222.18,127.29 222.86,127.29 223.54,127.27 224.22,127.25 224.9,127.22 225.58,127.18 226.26,127.13 226.94,127.07 227.63,127 228.31,126.93 228.99,126.85 229.67,126.76 230.36,126.66 231.04,126.56 231.73,126.45 232.41,126.33 233.1,126.21 233.78,126.09 234.47,125.96 235.16,125.82 235.85,125.68 236.54,125.54 237.23,125.39 237.92,125.24 238.61,125.09 239.3,124.93 239.99,124.77 240.69,124.61 241.38,124.45 242.08,124.29 242.78,124.13 243.47,123.96 244.17,123.8 244.87,123.63 245.57,123.47 246.27,123.31 246.97,123.14 247.68,122.98 248.38,122.82 249.09,122.67 249.8,122.51 250.5,122.36 251.21,122.21 251.92,122.07 252.63,121.93 253.35,121.79 254.06,121.66 254.78,121.53 255.49,121.41 256.21,121.29 256.93,121.18 257.65,121.08 258.37,120.98 259.09,120.89 259.82,120.8 260.54,120.73 261.26,120.66 261.98,120.59 262.7,120.54 263.42,120.5 264.13,120.46 264.85,120.43 265.56,120.42 266.27,120.41 266.98,120.41 267.68,120.42 268.38,120.45 269.08,120.48 269.78,120.53 270.47,120.58 271.15,120.65 271.84,120.74 272.51,120.83 273.18,120.94 273.85,121.06 274.51,121.19 275.17,121.34 275.82,121.5 276.46,121.67 277.09,121.86 277.72,122.07 278.34,122.29 278.96,122.53 279.56,122.78 280.16,123.05 280.75,123.33 281.33,123.63 281.9,123.95 282.47,124.29 283.02,124.64 283.57,125.01 284.1,125.4 284.62,125.81 285.14,126.24 285.64,126.68 286.13,127.14 286.62,127.62 287.09,128.11 287.56,128.61 288.01,129.12 288.46,129.65 288.89,130.19 289.32,130.74 289.74,131.3 290.15,131.86 290.56,132.44 290.95,133.02 291.34,133.61 291.71,134.2 292.08,134.8 292.45,135.4 292.8,136 293.15,136.61 293.49,137.22 293.82,137.84 294.14,138.46 294.46,139.08 294.78,139.7 295.08,140.33 295.38,140.96 295.67,141.6 295.96,142.24 296.24,142.88 296.51,143.52 296.78,144.17 297.05,144.82 297.31,145.47 297.56,146.12 297.81,146.78 298.05,147.44 298.29,148.1 298.53,148.76 298.76,149.43 298.98,150.09 299.2,150.76 299.42,151.43 299.64,152.11 299.85,152.78 300.06,153.46 300.26,154.14 300.46,154.81 300.66,155.5 300.86,156.18 301.05,156.86 301.24,157.55 301.43,158.23 301.61,158.92 301.8,159.61 301.98,160.29 302.16,160.98 302.34,161.67 302.52,162.36 302.69,163.06 302.87,163.75 303.04,164.44 303.22,165.13 303.39,165.82 303.56,166.52 303.73,167.21 303.91,167.9 304.08,168.59 304.25,169.29 304.43,169.98 304.6,170.67 304.77,171.36 304.95,172.05 305.13,172.74 305.3,173.43 305.48,174.12 305.66,174.81 305.84,175.5 306.03,176.19 306.21,176.87 306.4,177.56 306.59,178.24 306.78,178.92 306.98,179.6 307.17,180.28 307.37,180.96 307.58,181.64 307.78,182.31 307.99,182.98 308.21,183.66 308.42,184.33 308.64,185 308.86,185.66 309.08,186.33 309.3,187 309.53,187.66 309.76,188.32 309.99,188.99 310.22,189.65 310.46,190.31 310.69,190.97 310.93,191.62 311.17,192.28 311.41,192.94 311.65,193.59 311.9,194.25 312.14,194.9 312.39,195.55 312.64,196.21 312.89,196.86 313.14,197.51 313.39,198.16 313.64,198.81 313.9,199.46 314.15,200.11 314.4,200.76 314.66,201.41 314.91,202.06 315.17,202.7 315.42,203.35 315.68,204 315.94,204.65 316.19,205.29 316.45,205.94 316.7,206.59 316.96,207.23 317.22,207.88 317.47,208.53 317.73,209.18 317.98,209.82 318.23,210.47 318.49,211.12 318.74,211.77 318.99,212.41 319.24,213.06 319.49,213.71 319.74,214.36 319.98,215.01 320.23,215.66 320.47,216.31 320.72,216.96 320.96,217.62 321.2,218.27 321.44,218.92 321.67,219.58 321.91,220.23 322.14,220.89 322.37,221.54 322.6,222.2 322.83,222.86 323.05,223.52 323.27,224.18 323.49,224.84 323.71,225.5 323.93,226.17 324.14,226.83 324.35,227.5 324.55,228.17 324.76,228.84 324.96,229.51 325.15,230.18 325.35,230.85 325.54,231.52 325.73,232.2 325.91,232.88 326.09,233.55 326.27,234.23 326.45,234.92 326.62,235.6 326.78,236.29 326.94,236.97 327.1,237.66 327.26,238.35 327.41,239.04 327.56,239.74 327.7,240.43 327.84,241.13 327.97,241.83 328.1,242.54 328.22,243.24 328.34,243.95 328.46,244.65 328.57,245.37 328.67,246.08 328.77,246.79 328.87,247.51 328.96,248.23 329.04,248.96 329.12,249.68 329.19,250.41" fill="none" stroke="#ff0000" stroke-width="1.15"/>
<path d="M56.36,138.38 57.05,138.34 57.73,138.29 58.42,138.25 59.11,138.21 59.81,138.17 60.5,138.13 61.2,138.09 61.9,138.05 62.6,138 63.3,137.96 64,137.92 64.7,137.88 65.41,137.83 66.12,137.79 66.82,137.74 67.53,137.69 68.24,137.64 68.95,137.59 69.65,137.53 70.36,137.48 71.07,137.42 71.78,137.36 72.49,137.29 73.2,137.22 73.9,137.15 74.61,137.08 75.32,137 76.02,136.92 76.73,136.83 77.43,136.74 78.13,136.65 78.83,136.55 79.53,136.45 80.23,136.34 80.92,136.23 81.62,136.11 82.31,135.99 83,135.86 83.69,135.72 84.37,135.58 85.05,135.44 85.73,135.28 86.41,135.12 87.08,134.96 87.76,134.79 88.43,134.61 89.09,134.42 89.76,134.23 90.42,134.04 91.08,133.83 91.73,133.62 92.39,133.41 93.04,133.19 93.69,132.96 94.33,132.73 94.98,132.49 95.62,132.24 96.26,131.99 96.9,131.73 97.53,131.47 98.17,131.2 98.8,130.93 99.43,130.65 100.06,130.37 100.68,130.08 101.3,129.78 101.93,129.48 102.55,129.17 103.16,128.86 103.78,128.54 104.39,128.22 105.01,127.89 105.62,127.56 106.23,127.22 106.83,126.88 107.44,126.53 108.04,126.18 108.65,125.82 109.25,125.46 109.85,125.09 110.45,124.72 111.04,124.34 111.64,123.96 112.23,123.57 112.83,123.18 113.42,122.79 114.01,122.39 114.6,121.98 115.19,121.57 115.78,121.16 116.36,120.74 116.95,120.32 117.53,119.89 118.12,119.47 118.7,119.04 119.29,118.6 119.87,118.17 120.45,117.74 121.04,117.3 121.62,116.86 122.2,116.43 122.79,115.99 123.37,115.56 123.96,115.12 124.54,114.69 125.13,114.26 125.71,113.83 126.3,113.41 126.89,112.99 127.48,112.57 128.08,112.15 128.67,111.74 129.27,111.34 129.86,110.94 130.46,110.55 131.06,110.16 131.67,109.78 132.27,109.41 132.88,109.04 133.49,108.68 134.11,108.33 134.72,107.99 135.34,107.66 135.96,107.33 136.59,107.02 137.22,106.72 137.85,106.43 138.48,106.14 139.12,105.87 139.77,105.62 140.41,105.37 141.06,105.14 141.72,104.92 142.38,104.71 143.04,104.52 143.7,104.34 144.37,104.17 145.03,104.02 145.7,103.88 146.38,103.75 147.05,103.63 147.72,103.53 148.4,103.45 149.07,103.38 149.75,103.32 150.42,103.27 151.1,103.24 151.77,103.23 152.44,103.23 153.11,103.24 153.78,103.27 154.45,103.31 155.11,103.37 155.78,103.44 156.44,103.52 157.09,103.63 157.74,103.74 158.39,103.87 159.04,104.02 159.68,104.19 160.31,104.36 160.94,104.56 161.57,104.77 162.19,104.99 162.8,105.23 163.4,105.49 164,105.76 164.6,106.05 165.18,106.36 165.76,106.68 166.33,107.02 166.9,107.37 167.45,107.74 168,108.13 168.54,108.53 169.08,108.94 169.61,109.36 170.13,109.8 170.65,110.25 171.16,110.72 171.67,111.19 172.18,111.67 172.67,112.17 173.17,112.67 173.66,113.18 174.14,113.7 174.63,114.23 175.1,114.77 175.58,115.31 176.05,115.86 176.53,116.42 176.99,116.98 177.46,117.54 177.93,118.11 178.39,118.69 178.85,119.27 179.31,119.84 179.77,120.43 180.23,121.01 180.69,121.59 181.15,122.18 181.62,122.77 182.08,123.35 182.54,123.93 183,124.52 183.47,125.1 183.93,125.67 184.4,126.25 184.87,126.82 185.35,127.39 185.82,127.95 186.3,128.51 186.78,129.06 187.27,129.61 187.75,130.15 188.24,130.68 188.74,131.21 189.24,131.73 189.74,132.25 190.24,132.75 190.75,133.25 191.27,133.74 191.78,134.22 192.31,134.69 192.83,135.16 193.37,135.61 193.9,136.05 194.44,136.48 194.99,136.9 195.54,137.31 196.1,137.71 196.66,138.1 197.23,138.47 197.81,138.83 198.39,139.18 198.97,139.52 199.56,139.85 200.16,140.16 200.76,140.46 201.36,140.76 201.97,141.04 202.59,141.31 203.21,141.57 203.83,141.82 204.46,142.05 205.09,142.28 205.73,142.5 206.37,142.7 207.01,142.9 207.66,143.09 208.31,143.26 208.96,143.43 209.62,143.58 210.28,143.73 210.95,143.87 211.61,144 212.28,144.11 212.96,144.22 213.63,144.32 214.31,144.41 214.99,144.5 215.68,144.57 216.36,144.64 217.05,144.69 217.74,144.74 218.43,144.78 219.13,144.81 219.82,144.83 220.52,144.85 221.22,144.86 221.92,144.86 222.62,144.85 223.33,144.84 224.03,144.81 224.73,144.78 225.44,144.75 226.15,144.7 226.86,144.65 227.56,144.6 228.27,144.53 228.98,144.46 229.69,144.39 230.4,144.3 231.11,144.21 231.82,144.12 232.53,144.02 233.24,143.91 233.94,143.8 234.65,143.68 235.36,143.55 236.06,143.42 236.77,143.29 237.48,143.15 238.18,143.01 238.88,142.86 239.59,142.71 240.29,142.55 240.99,142.4 241.69,142.23 242.39,142.07 243.1,141.91 243.8,141.74 244.5,141.57 245.2,141.4 245.9,141.23 246.59,141.06 247.29,140.89 247.99,140.72 248.69,140.55 249.39,140.38 250.09,140.22 250.79,140.05 251.48,139.89 252.18,139.73 252.88,139.57 253.58,139.41 254.28,139.26 254.98,139.11 255.67,138.96 256.37,138.82 257.07,138.68 257.77,138.55 258.47,138.42 259.17,138.3 259.87,138.18 260.57,138.07 261.27,137.97 261.97,137.87 262.67,137.78 263.38,137.7 264.08,137.62 264.78,137.55 265.49,137.5 266.19,137.45 266.89,137.4 267.6,137.37 268.3,137.35 269.01,137.34 269.71,137.34 270.41,137.35 271.11,137.37 271.81,137.4 272.51,137.44 273.2,137.5 273.89,137.57 274.58,137.65 275.26,137.75 275.94,137.85 276.61,137.98 277.28,138.11 277.94,138.26 278.6,138.43 279.25,138.61 279.89,138.81 280.53,139.02 281.16,139.25 281.78,139.49 282.39,139.75 283,140.03 283.59,140.33 284.18,140.64 284.76,140.97 285.33,141.31 285.89,141.67 286.45,142.05 286.99,142.43 287.53,142.84 288.05,143.25 288.57,143.68 289.08,144.12 289.58,144.57 290.07,145.04 290.55,145.52 291.02,146.01 291.48,146.51 291.94,147.02 292.38,147.54 292.81,148.07 293.24,148.6 293.65,149.15 294.06,149.71 294.45,150.27 294.84,150.85 295.21,151.43 295.58,152.01 295.94,152.61 296.28,153.21 296.62,153.82 296.95,154.43 297.27,155.05 297.58,155.68 297.89,156.31 298.19,156.94 298.48,157.58 298.76,158.23 299.04,158.88 299.31,159.53 299.58,160.19 299.84,160.86 300.09,161.52 300.34,162.19 300.59,162.87 300.83,163.54 301.06,164.22 301.3,164.9 301.52,165.59 301.75,166.27 301.97,166.96 302.19,167.65 302.41,168.34 302.62,169.03 302.84,169.73 303.05,170.42 303.26,171.11 303.47,171.81 303.68,172.5 303.89,173.2 304.09,173.89 304.3,174.58 304.51,175.28 304.72,175.97 304.93,176.66 305.15,177.34 305.36,178.03 305.58,178.71 305.79,179.4 306.01,180.08 306.23,180.76 306.45,181.44 306.67,182.12 306.89,182.79 307.12,183.47 307.34,184.14 307.57,184.81 307.79,185.49 308.02,186.16 308.25,186.83 308.48,187.49 308.71,188.16 308.94,188.83 309.17,189.49 309.4,190.16 309.63,190.82 309.86,191.48 310.1,192.14 310.33,192.8 310.57,193.46 310.8,194.12 311.03,194.78 311.27,195.44 311.51,196.1 311.74,196.75 311.98,197.41 312.21,198.06 312.45,198.72 312.68,199.37 312.92,200.03 313.16,200.68 313.39,201.33 313.63,201.99 313.86,202.64 314.1,203.29 314.33,203.95 314.57,204.6 314.8,205.25 315.04,205.9 315.27,206.55 315.5,207.2 315.74,207.86 315.97,208.51 316.2,209.16 316.43,209.81 316.66,210.46 316.89,211.12 317.12,211.77 317.35,212.42 317.58,213.07 317.8,213.73 318.03,214.38 318.25,215.03 318.48,215.69 318.7,216.34 318.92,217 319.14,217.65 319.36,218.31 319.58,218.97 319.8,219.62 320.01,220.28 320.23,220.94 320.44,221.6 320.65,222.26 320.86,222.92 321.07,223.58 321.28,224.24 321.48,224.91 321.69,225.57 321.89,226.24 322.09,226.9 322.29,227.57 322.49,228.24 322.68,228.91 322.88,229.58 323.07,230.25 323.26,230.92 323.45,231.59 323.63,232.27 323.82,232.95 324,233.62 324.18,234.3 324.36,234.98 324.53,235.67 324.7,236.35 324.87,237.03 325.04,237.72 325.21,238.41 325.37,239.1 325.53,239.79 325.69,240.48 325.85,241.18 326,241.87 326.15,242.57 326.3,243.27 326.45,243.97 326.59,244.68 326.73,245.38 326.87,246.09 327,246.8 327.13,247.51 327.26,248.22 327.39,248.94 327.51,249.66 327.63,250.38" fill="none" stroke="#ffa500" stroke-width="1.15"/>
<path d="M56.35,143.2 57.05,143.08 57.75,142.96 58.44,142.83 59.14,142.71 59.83,142.58 60.52,142.44 61.21,142.31 61.9,142.17 62.59,142.02 63.28,141.88 63.97,141.73 64.65,141.57 65.34,141.42 66.02,141.26 66.71,141.1 67.39,140.93 68.07,140.77 68.75,140.59 69.43,140.42 70.11,140.24 70.78,140.06 71.46,139.88 72.13,139.69 72.81,139.5 73.48,139.3 74.15,139.11 74.82,138.91 75.49,138.7 76.15,138.49 76.82,138.28 77.48,138.07 78.15,137.85 78.81,137.63 79.47,137.41 80.13,137.18 80.79,136.95 81.45,136.72 82.1,136.48 82.76,136.24 83.41,135.99 84.06,135.75 84.71,135.49 85.36,135.24 86.01,134.98 86.65,134.72 87.3,134.45 87.94,134.19 88.58,133.91 89.22,133.64 89.86,133.36 90.5,133.08 91.13,132.79 91.77,132.5 92.4,132.21 93.03,131.91 93.66,131.61 94.29,131.31 94.92,131 95.54,130.69 96.16,130.37 96.79,130.05 97.41,129.73 98.02,129.4 98.64,129.07 99.26,128.74 99.87,128.4 100.48,128.06 101.09,127.72 101.7,127.37 102.31,127.02 102.91,126.67 103.52,126.31 104.12,125.94 104.72,125.58 105.32,125.21 105.91,124.83 106.51,124.45 107.1,124.07 107.69,123.69 108.28,123.3 108.87,122.9 109.45,122.51 110.04,122.11 110.62,121.7 111.2,121.29 111.78,120.88 112.35,120.46 112.93,120.05 113.5,119.62 114.07,119.2 114.65,118.78 115.22,118.35 115.79,117.92 116.36,117.49 116.93,117.07 117.5,116.64 118.07,116.21 118.64,115.79 119.22,115.36 119.79,114.94 120.37,114.52 120.94,114.1 121.52,113.69 122.1,113.28 122.68,112.87 123.27,112.47 123.86,112.08 124.45,111.68 125.04,111.3 125.64,110.92 126.23,110.54 126.84,110.18 127.44,109.82 128.05,109.47 128.67,109.12 129.29,108.79 129.91,108.46 130.54,108.15 131.17,107.84 131.8,107.54 132.44,107.25 133.08,106.97 133.73,106.7 134.38,106.44 135.03,106.19 135.68,105.95 136.34,105.72 137,105.51 137.66,105.3 138.32,105.11 138.98,104.92 139.65,104.75 140.31,104.59 140.98,104.44 141.65,104.3 142.32,104.18 142.99,104.07 143.66,103.97 144.33,103.88 145,103.81 145.67,103.75 146.33,103.71 147,103.67 147.67,103.66 148.34,103.65 149,103.66 149.67,103.68 150.33,103.72 150.99,103.78 151.65,103.84 152.31,103.93 152.96,104.03 153.62,104.14 154.27,104.27 154.91,104.42 155.56,104.58 156.2,104.76 156.83,104.95 157.47,105.16 158.1,105.39 158.72,105.64 159.34,105.9 159.96,106.18 160.57,106.47 161.18,106.79 161.78,107.12 162.38,107.46 162.98,107.83 163.57,108.2 164.15,108.6 164.73,109 165.3,109.42 165.87,109.85 166.43,110.3 166.99,110.76 167.54,111.23 168.09,111.71 168.63,112.2 169.16,112.7 169.69,113.22 170.21,113.74 170.73,114.27 171.24,114.81 171.74,115.36 172.24,115.91 172.73,116.47 173.21,117.04 173.69,117.62 174.16,118.2 174.63,118.79 175.08,119.38 175.53,119.97 175.98,120.57 176.41,121.18 176.84,121.78 177.26,122.39 177.68,123 178.09,123.61 178.49,124.23 178.88,124.84 179.26,125.45 179.64,126.07 180.01,126.68 180.38,127.3 180.74,127.91 181.1,128.52 181.45,129.13 181.8,129.74 182.15,130.35 182.49,130.96 182.84,131.57 183.18,132.17 183.52,132.77 183.87,133.37 184.21,133.96 184.56,134.55 184.91,135.14 185.26,135.73 185.61,136.31 185.97,136.88 186.34,137.46 186.71,138.02 187.08,138.59 187.46,139.15 187.85,139.7 188.24,140.25 188.65,140.79 189.06,141.33 189.48,141.86 189.91,142.38 190.35,142.9 190.81,143.41 191.27,143.91 191.74,144.41 192.23,144.9 192.72,145.37 193.22,145.85 193.74,146.31 194.26,146.76 194.79,147.2 195.33,147.63 195.88,148.05 196.44,148.46 197.01,148.86 197.58,149.25 198.16,149.62 198.75,149.98 199.34,150.33 199.95,150.66 200.56,150.99 201.17,151.29 201.8,151.58 202.42,151.86 203.06,152.12 203.7,152.37 204.34,152.6 204.99,152.81 205.65,153.01 206.31,153.19 206.97,153.35 207.64,153.49 208.31,153.61 208.99,153.72 209.66,153.81 210.35,153.88 211.03,153.93 211.72,153.96 212.41,153.99 213.11,153.99 213.8,153.99 214.5,153.97 215.2,153.93 215.9,153.89 216.6,153.83 217.31,153.77 218.01,153.69 218.72,153.61 219.43,153.52 220.14,153.42 220.84,153.31 221.55,153.2 222.26,153.08 222.97,152.96 223.68,152.83 224.38,152.7 225.09,152.57 225.8,152.44 226.5,152.3 227.21,152.16 227.91,152.03 228.61,151.89 229.31,151.74 230.01,151.6 230.71,151.46 231.41,151.32 232.11,151.17 232.8,151.03 233.5,150.88 234.2,150.73 234.89,150.59 235.59,150.44 236.28,150.29 236.97,150.14 237.67,150 238.36,149.85 239.05,149.7 239.74,149.55 240.43,149.41 241.12,149.26 241.81,149.12 242.5,148.97 243.19,148.83 243.88,148.68 244.57,148.54 245.26,148.4 245.95,148.26 246.64,148.12 247.32,147.98 248.01,147.85 248.7,147.71 249.39,147.58 250.07,147.45 250.76,147.32 251.45,147.19 252.14,147.07 252.82,146.95 253.51,146.83 254.2,146.71 254.88,146.59 255.57,146.48 256.26,146.37 256.95,146.26 257.63,146.16 258.32,146.05 259.01,145.96 259.7,145.86 260.39,145.77 261.08,145.68 261.77,145.59 262.45,145.51 263.14,145.43 263.83,145.36 264.53,145.29 265.22,145.22 265.91,145.16 266.6,145.1 267.29,145.05 267.99,145 268.68,144.96 269.37,144.92 270.07,144.88 270.76,144.85 271.46,144.82 272.16,144.8 272.86,144.79 273.55,144.78 274.25,144.77 274.95,144.77 275.65,144.78 276.36,144.79 277.06,144.81 277.76,144.83 278.46,144.86 279.16,144.91 279.86,144.96 280.55,145.03 281.24,145.11 281.93,145.2 282.61,145.31 283.29,145.43 283.96,145.58 284.63,145.74 285.28,145.92 285.93,146.13 286.57,146.35 287.2,146.61 287.82,146.88 288.43,147.18 289.03,147.51 289.61,147.87 290.19,148.24 290.75,148.64 291.3,149.06 291.84,149.49 292.36,149.94 292.87,150.41 293.36,150.89 293.85,151.38 294.32,151.88 294.77,152.39 295.21,152.91 295.64,153.44 296.06,153.99 296.47,154.54 296.86,155.1 297.25,155.67 297.62,156.25 297.99,156.83 298.34,157.43 298.69,158.03 299.02,158.64 299.35,159.25 299.66,159.88 299.97,160.51 300.28,161.14 300.57,161.78 300.86,162.43 301.14,163.08 301.42,163.74 301.69,164.4 301.95,165.06 302.21,165.73 302.46,166.4 302.71,167.08 302.96,167.76 303.2,168.44 303.44,169.12 303.67,169.8 303.9,170.49 304.13,171.18 304.36,171.87 304.59,172.56 304.81,173.25 305.04,173.94 305.26,174.63 305.49,175.32 305.71,176 305.93,176.69 306.16,177.38 306.39,178.06 306.61,178.74 306.84,179.42 307.07,180.1 307.3,180.78 307.53,181.46 307.76,182.13 307.99,182.81 308.22,183.48 308.46,184.15 308.69,184.83 308.92,185.5 309.16,186.17 309.39,186.83 309.63,187.5 309.86,188.17 310.1,188.83 310.33,189.5 310.57,190.16 310.8,190.82 311.04,191.48 311.28,192.15 311.51,192.81 311.75,193.47 311.98,194.13 312.22,194.78 312.46,195.44 312.69,196.1 312.93,196.76 313.17,197.41 313.4,198.07 313.64,198.72 313.88,199.38 314.11,200.03 314.35,200.69 314.58,201.34 314.82,201.99 315.05,202.65 315.28,203.3 315.52,203.95 315.75,204.61 315.98,205.26 316.21,205.91 316.45,206.56 316.68,207.22 316.91,207.87 317.14,208.52 317.37,209.17 317.59,209.83 317.82,210.48 318.05,211.13 318.27,211.78 318.5,212.44 318.72,213.09 318.94,213.74 319.17,214.4 319.39,215.05 319.61,215.71 319.83,216.36 320.05,217.02 320.26,217.68 320.48,218.33 320.69,218.99 320.91,219.65 321.12,220.31 321.33,220.97 321.54,221.63 321.75,222.29 321.95,222.95 322.16,223.61 322.36,224.27 322.56,224.94 322.77,225.6 322.97,226.27 323.16,226.93 323.36,227.6 323.55,228.27 323.75,228.94 323.94,229.61 324.13,230.28 324.32,230.95 324.5,231.63 324.69,232.3 324.87,232.98 325.05,233.66 325.23,234.34 325.4,235.02 325.58,235.7 325.75,236.38 325.92,237.06 326.09,237.75 326.26,238.44 326.42,239.13 326.58,239.82 326.74,240.51 326.9,241.2 327.06,241.9 327.21,242.59 327.36,243.29 327.51,243.99 327.65,244.69 327.8,245.4 327.94,246.1 328.08,246.81 328.21,247.52 328.35,248.23 328.48,248.94 328.61,249.66 328.73,250.38" fill="none" stroke="#228b22" stroke-width="1.15"/>
<path d="M56.23,142.8 56.96,142.68 57.68,142.56 58.39,142.44 59.11,142.31 59.82,142.17 60.53,142.03 61.23,141.89 61.93,141.74 62.63,141.58 63.32,141.42 64.02,141.25 64.71,141.08 65.39,140.9 66.08,140.72 66.76,140.53 67.44,140.34 68.11,140.14 68.79,139.94 69.46,139.73 70.12,139.52 70.79,139.3 71.45,139.08 72.11,138.86 72.77,138.63 73.43,138.4 74.08,138.16 74.74,137.92 75.39,137.67 76.03,137.42 76.68,137.17 77.32,136.91 77.96,136.65 78.6,136.38 79.24,136.11 79.88,135.84 80.51,135.56 81.14,135.28 81.78,134.99 82.4,134.71 83.03,134.41 83.66,134.12 84.28,133.82 84.91,133.52 85.53,133.22 86.15,132.91 86.77,132.6 87.38,132.28 88,131.97 88.62,131.65 89.23,131.32 89.84,131 90.45,130.67 91.07,130.34 91.68,130.01 92.28,129.67 92.89,129.33 93.5,128.99 94.11,128.65 94.71,128.3 95.32,127.95 95.92,127.6 96.53,127.25 97.13,126.89 97.73,126.54 98.33,126.18 98.93,125.82 99.54,125.46 100.14,125.09 100.74,124.73 101.34,124.36 101.94,123.99 102.54,123.62 103.14,123.25 103.74,122.87 104.34,122.5 104.94,122.12 105.54,121.74 106.14,121.36 106.74,120.98 107.34,120.6 107.94,120.22 108.54,119.84 109.14,119.45 109.74,119.07 110.34,118.68 110.95,118.3 111.55,117.91 112.15,117.52 112.76,117.13 113.36,116.74 113.97,116.35 114.57,115.96 115.18,115.57 115.79,115.18 116.4,114.79 117.01,114.4 117.62,114.01 118.23,113.63 118.84,113.24 119.46,112.86 120.07,112.48 120.69,112.1 121.3,111.72 121.92,111.35 122.54,110.99 123.16,110.63 123.78,110.27 124.4,109.92 125.03,109.58 125.65,109.24 126.28,108.91 126.91,108.59 127.54,108.27 128.17,107.97 128.8,107.67 129.44,107.38 130.07,107.1 130.71,106.83 131.35,106.58 131.99,106.33 132.64,106.1 133.28,105.87 133.93,105.66 134.58,105.47 135.23,105.28 135.88,105.11 136.53,104.95 137.19,104.81 137.84,104.69 138.5,104.58 139.17,104.48 139.83,104.4 140.5,104.34 141.16,104.3 141.83,104.27 142.51,104.26 143.18,104.26 143.85,104.28 144.53,104.32 145.2,104.37 145.88,104.44 146.55,104.52 147.23,104.62 147.9,104.73 148.57,104.86 149.25,105 149.92,105.15 150.59,105.32 151.25,105.51 151.92,105.7 152.58,105.91 153.24,106.13 153.9,106.37 154.56,106.61 155.21,106.87 155.86,107.15 156.5,107.43 157.14,107.72 157.78,108.03 158.41,108.35 159.03,108.68 159.65,109.01 160.27,109.36 160.88,109.72 161.48,110.09 162.08,110.47 162.67,110.86 163.26,111.26 163.84,111.67 164.41,112.08 164.97,112.51 165.52,112.94 166.07,113.38 166.61,113.83 167.14,114.29 167.67,114.76 168.18,115.23 168.69,115.71 169.19,116.2 169.68,116.69 170.17,117.2 170.64,117.71 171.11,118.22 171.58,118.74 172.03,119.27 172.48,119.81 172.92,120.35 173.36,120.9 173.79,121.46 174.21,122.02 174.63,122.58 175.04,123.16 175.45,123.73 175.84,124.32 176.24,124.91 176.63,125.5 177.01,126.1 177.39,126.71 177.76,127.32 178.13,127.93 178.49,128.55 178.85,129.18 179.2,129.81 179.55,130.44 179.89,131.08 180.23,131.72 180.57,132.36 180.9,133.01 181.23,133.67 181.55,134.32 181.88,134.99 182.19,135.65 182.51,136.32 182.82,136.99 183.13,137.66 183.44,138.33 183.74,139.01 184.05,139.68 184.36,140.35 184.67,141.02 184.98,141.69 185.29,142.35 185.6,143.01 185.92,143.67 186.25,144.32 186.57,144.97 186.9,145.6 187.24,146.24 187.59,146.86 187.94,147.47 188.3,148.08 188.66,148.67 189.04,149.25 189.43,149.82 189.82,150.38 190.23,150.93 190.64,151.46 191.07,151.98 191.51,152.48 191.97,152.97 192.43,153.44 192.91,153.9 193.39,154.34 193.89,154.77 194.39,155.18 194.91,155.57 195.44,155.95 195.97,156.32 196.52,156.67 197.07,157 197.64,157.31 198.21,157.61 198.79,157.9 199.38,158.16 199.97,158.42 200.58,158.65 201.19,158.87 201.81,159.07 202.43,159.25 203.06,159.42 203.7,159.56 204.35,159.7 205,159.81 205.65,159.91 206.31,159.98 206.98,160.05 207.65,160.09 208.32,160.11 209,160.12 209.68,160.11 210.37,160.09 211.06,160.05 211.76,159.99 212.45,159.93 213.15,159.85 213.85,159.76 214.56,159.66 215.26,159.55 215.97,159.43 216.68,159.3 217.39,159.16 218.1,159.02 218.81,158.88 219.53,158.73 220.24,158.57 220.95,158.42 221.66,158.26 222.37,158.1 223.08,157.95 223.79,157.79 224.5,157.63 225.2,157.48 225.91,157.33 226.61,157.19 227.31,157.05 228,156.91 228.7,156.77 229.39,156.64 230.09,156.51 230.78,156.39 231.47,156.26 232.16,156.14 232.84,156.02 233.53,155.9 234.21,155.78 234.9,155.66 235.58,155.55 236.26,155.43 236.94,155.32 237.62,155.2 238.3,155.09 238.98,154.97 239.66,154.86 240.33,154.74 241.01,154.62 241.69,154.51 242.36,154.39 243.04,154.27 243.72,154.15 244.39,154.02 245.07,153.9 245.75,153.77 246.42,153.64 247.1,153.51 247.78,153.37 248.46,153.23 249.13,153.09 249.81,152.95 250.49,152.8 251.17,152.64 251.85,152.49 252.54,152.32 253.22,152.16 253.9,151.99 254.59,151.81 255.27,151.63 255.96,151.44 256.65,151.25 257.34,151.06 258.03,150.86 258.72,150.66 259.42,150.45 260.11,150.25 260.81,150.04 261.5,149.83 262.2,149.63 262.89,149.42 263.59,149.22 264.29,149.02 264.98,148.83 265.68,148.64 266.38,148.45 267.07,148.27 267.77,148.1 268.47,147.93 269.17,147.77 269.86,147.62 270.56,147.48 271.25,147.35 271.95,147.23 272.64,147.12 273.33,147.02 274.03,146.93 274.72,146.86 275.41,146.81 276.09,146.76 276.78,146.74 277.47,146.73 278.15,146.73 278.83,146.75 279.51,146.79 280.19,146.84 280.86,146.91 281.53,146.99 282.2,147.09 282.86,147.21 283.51,147.34 284.17,147.49 284.81,147.65 285.45,147.83 286.08,148.02 286.71,148.23 287.33,148.45 287.94,148.69 288.55,148.95 289.14,149.22 289.73,149.51 290.31,149.81 290.88,150.13 291.44,150.46 291.99,150.81 292.53,151.17 293.06,151.55 293.58,151.94 294.09,152.35 294.58,152.78 295.06,153.22 295.54,153.67 296,154.14 296.45,154.62 296.88,155.12 297.31,155.62 297.73,156.14 298.14,156.68 298.54,157.22 298.93,157.78 299.31,158.34 299.69,158.92 300.05,159.5 300.41,160.1 300.75,160.7 301.1,161.32 301.43,161.94 301.76,162.57 302.08,163.2 302.39,163.85 302.7,164.5 303,165.15 303.3,165.81 303.59,166.48 303.88,167.15 304.16,167.82 304.44,168.5 304.72,169.18 304.99,169.87 305.26,170.56 305.52,171.25 305.78,171.94 306.04,172.63 306.3,173.32 306.55,174.02 306.81,174.71 307.06,175.4 307.31,176.09 307.56,176.79 307.81,177.47 308.06,178.16 308.31,178.85 308.56,179.53 308.81,180.22 309.05,180.9 309.3,181.58 309.54,182.26 309.79,182.93 310.03,183.61 310.28,184.28 310.52,184.96 310.76,185.63 311.01,186.3 311.25,186.97 311.49,187.64 311.73,188.31 311.97,188.98 312.21,189.64 312.45,190.31 312.68,190.97 312.92,191.64 313.16,192.3 313.39,192.96 313.63,193.62 313.86,194.28 314.1,194.94 314.33,195.6 314.56,196.26 314.79,196.91 315.02,197.57 315.25,198.23 315.48,198.88 315.71,199.54 315.94,200.19 316.17,200.85 316.4,201.5 316.62,202.15 316.85,202.81 317.07,203.46 317.3,204.11 317.52,204.76 317.74,205.42 317.97,206.07 318.19,206.72 318.41,207.37 318.63,208.02 318.85,208.67 319.07,209.33 319.29,209.98 319.5,210.63 319.72,211.28 319.94,211.93 320.15,212.59 320.37,213.24 320.58,213.89 320.79,214.54 321,215.2 321.22,215.85 321.43,216.5 321.64,217.16 321.85,217.81 322.06,218.47 322.26,219.12 322.47,219.78 322.68,220.44 322.88,221.09 323.09,221.75 323.29,222.41 323.5,223.07 323.7,223.73 323.9,224.39 324.1,225.05 324.3,225.71 324.5,226.38 324.7,227.04 324.9,227.7 325.1,228.37 325.29,229.04 325.49,229.71 325.68,230.37 325.88,231.04 326.07,231.72 326.26,232.39 326.45,233.06 326.65,233.74 326.84,234.41 327.03,235.09 327.21,235.77 327.4,236.45 327.59,237.13 327.78,237.81 327.96,238.5 328.15,239.18 328.33,239.87 328.51,240.56 328.69,241.25 328.88,241.94 329.06,242.63 329.24,243.33 329.41,244.03 329.59,244.73 329.77,245.43 329.95,246.13 330.12,246.83 330.3,247.54 330.47,248.25 330.64,248.96 330.81,249.67 330.99,250.38" fill="none" stroke="#0000ff" stroke-width="1.15"/>
<path d="M56.3,141.08 57,140.87 57.69,140.66 58.38,140.46 59.07,140.24 59.76,140.03 60.44,139.82 61.13,139.6 61.81,139.39 62.49,139.17 63.17,138.95 63.85,138.73 64.52,138.51 65.2,138.28 65.87,138.06 66.54,137.83 67.21,137.6 67.87,137.37 68.54,137.14 69.2,136.9 69.87,136.67 70.53,136.43 71.19,136.19 71.85,135.95 72.5,135.71 73.16,135.46 73.81,135.22 74.46,134.97 75.12,134.72 75.77,134.46 76.41,134.21 77.06,133.95 77.71,133.7 78.35,133.44 79,133.17 79.64,132.91 80.28,132.64 80.92,132.37 81.56,132.1 82.19,131.83 82.83,131.56 83.47,131.28 84.1,131 84.73,130.72 85.37,130.43 86,130.15 86.63,129.86 87.26,129.57 87.88,129.28 88.51,128.98 89.14,128.68 89.76,128.38 90.39,128.08 91.01,127.77 91.63,127.47 92.26,127.16 92.88,126.84 93.5,126.53 94.12,126.21 94.74,125.89 95.35,125.57 95.97,125.24 96.59,124.91 97.2,124.58 97.82,124.25 98.43,123.91 99.05,123.58 99.66,123.23 100.27,122.89 100.89,122.54 101.5,122.19 102.11,121.84 102.72,121.48 103.33,121.13 103.94,120.76 104.55,120.4 105.16,120.03 105.77,119.66 106.38,119.29 106.98,118.91 107.59,118.53 108.2,118.15 108.81,117.77 109.41,117.38 110.02,116.99 110.62,116.59 111.23,116.19 111.84,115.79 112.44,115.39 113.05,114.98 113.65,114.58 114.26,114.17 114.87,113.77 115.47,113.36 116.08,112.96 116.69,112.56 117.3,112.17 117.91,111.78 118.53,111.39 119.14,111.01 119.76,110.63 120.37,110.26 120.99,109.9 121.62,109.54 122.24,109.2 122.86,108.86 123.49,108.54 124.12,108.22 124.76,107.92 125.39,107.63 126.03,107.35 126.67,107.08 127.32,106.83 127.97,106.59 128.62,106.37 129.27,106.17 129.93,105.98 130.6,105.8 131.26,105.65 131.93,105.51 132.6,105.38 133.28,105.28 133.95,105.18 134.63,105.11 135.31,105.04 135.99,105 136.68,104.96 137.36,104.95 138.05,104.94 138.73,104.95 139.42,104.98 140.11,105.02 140.8,105.07 141.48,105.13 142.17,105.21 142.86,105.3 143.54,105.41 144.23,105.52 144.91,105.65 145.59,105.79 146.27,105.95 146.95,106.11 147.63,106.29 148.3,106.48 148.97,106.68 149.64,106.89 150.31,107.11 150.97,107.34 151.63,107.59 152.29,107.84 152.94,108.1 153.59,108.38 154.23,108.66 154.87,108.95 155.5,109.25 156.13,109.56 156.76,109.88 157.38,110.21 157.99,110.55 158.6,110.9 159.2,111.25 159.8,111.61 160.38,111.98 160.97,112.36 161.54,112.74 162.11,113.13 162.67,113.53 163.23,113.94 163.78,114.36 164.32,114.78 164.86,115.2 165.39,115.64 165.92,116.08 166.44,116.53 166.95,116.99 167.46,117.45 167.96,117.92 168.46,118.39 168.95,118.88 169.44,119.37 169.92,119.86 170.39,120.36 170.86,120.87 171.33,121.38 171.78,121.9 172.24,122.42 172.69,122.96 173.13,123.49 173.57,124.03 174,124.58 174.43,125.13 174.86,125.69 175.28,126.26 175.69,126.83 176.1,127.4 176.51,127.98 176.91,128.56 177.31,129.15 177.7,129.75 178.09,130.34 178.48,130.95 178.86,131.56 179.24,132.17 179.61,132.78 179.98,133.41 180.35,134.03 180.71,134.66 181.07,135.29 181.42,135.93 181.78,136.57 182.12,137.22 182.47,137.87 182.81,138.52 183.15,139.18 183.49,139.84 183.82,140.5 184.15,141.17 184.48,141.84 184.8,142.51 185.13,143.18 185.45,143.85 185.77,144.53 186.1,145.2 186.42,145.87 186.74,146.53 187.07,147.2 187.4,147.86 187.73,148.52 188.06,149.17 188.39,149.81 188.73,150.45 189.07,151.09 189.42,151.71 189.77,152.33 190.12,152.94 190.48,153.54 190.85,154.13 191.22,154.71 191.6,155.28 191.99,155.84 192.39,156.38 192.79,156.91 193.2,157.43 193.62,157.93 194.05,158.42 194.49,158.89 194.94,159.35 195.4,159.79 195.88,160.21 196.36,160.61 196.86,160.99 197.36,161.36 197.88,161.7 198.42,162.02 198.97,162.32 199.53,162.6 200.11,162.86 200.7,163.09 201.3,163.3 201.93,163.48 202.57,163.64 203.22,163.77 203.89,163.88 204.57,163.97 205.26,164.03 205.96,164.07 206.66,164.09 207.38,164.09 208.1,164.06 208.83,164.02 209.55,163.96 210.28,163.87 211.01,163.77 211.74,163.65 212.47,163.52 213.2,163.36 213.92,163.19 214.63,163.01 215.34,162.81 216.04,162.6 216.74,162.38 217.44,162.15 218.13,161.92 218.81,161.69 219.5,161.46 220.18,161.24 220.86,161.02 221.54,160.81 222.22,160.61 222.9,160.42 223.58,160.23 224.26,160.06 224.94,159.89 225.62,159.72 226.29,159.57 226.97,159.42 227.65,159.27 228.33,159.13 229,159 229.68,158.87 230.36,158.74 231.03,158.62 231.71,158.49 232.38,158.38 233.06,158.26 233.74,158.15 234.41,158.03 235.09,157.92 235.76,157.81 236.44,157.7 237.12,157.58 237.79,157.47 238.47,157.36 239.15,157.24 239.82,157.12 240.5,157 241.18,156.88 241.86,156.75 242.53,156.62 243.21,156.49 243.89,156.35 244.57,156.21 245.25,156.06 245.93,155.9 246.61,155.74 247.29,155.58 247.97,155.41 248.65,155.23 249.34,155.05 250.02,154.87 250.7,154.68 251.39,154.49 252.07,154.3 252.75,154.1 253.44,153.9 254.12,153.7 254.8,153.5 255.49,153.29 256.17,153.09 256.86,152.88 257.54,152.67 258.23,152.46 258.91,152.26 259.6,152.05 260.28,151.84 260.97,151.64 261.65,151.43 262.34,151.23 263.02,151.03 263.71,150.83 264.39,150.63 265.07,150.43 265.76,150.24 266.44,150.05 267.13,149.87 267.81,149.69 268.49,149.51 269.18,149.34 269.86,149.17 270.54,149.01 271.22,148.85 271.91,148.7 272.59,148.56 273.27,148.42 273.95,148.29 274.63,148.16 275.31,148.05 275.99,147.94 276.67,147.83 277.34,147.74 278.02,147.66 278.7,147.59 279.37,147.53 280.04,147.48 280.71,147.45 281.38,147.44 282.05,147.44 282.71,147.46 283.37,147.5 284.03,147.56 284.68,147.64 285.33,147.75 285.98,147.88 286.62,148.03 287.26,148.21 287.89,148.42 288.52,148.66 289.14,148.93 289.76,149.23 290.37,149.55 290.97,149.89 291.56,150.26 292.14,150.65 292.72,151.05 293.28,151.47 293.83,151.91 294.38,152.36 294.9,152.82 295.42,153.3 295.92,153.78 296.41,154.27 296.89,154.77 297.36,155.28 297.81,155.8 298.26,156.33 298.69,156.87 299.12,157.42 299.53,157.97 299.93,158.53 300.33,159.1 300.71,159.68 301.09,160.26 301.46,160.85 301.82,161.44 302.17,162.05 302.51,162.65 302.85,163.27 303.18,163.88 303.5,164.51 303.82,165.14 304.13,165.77 304.43,166.4 304.73,167.04 305.03,167.69 305.32,168.34 305.6,168.99 305.88,169.64 306.16,170.3 306.43,170.95 306.7,171.61 306.96,172.28 307.23,172.94 307.49,173.6 307.75,174.27 308,174.93 308.26,175.6 308.51,176.27 308.77,176.93 309.02,177.6 309.27,178.26 309.52,178.93 309.77,179.6 310.02,180.26 310.27,180.92 310.51,181.59 310.76,182.25 311.01,182.92 311.25,183.58 311.5,184.24 311.74,184.91 311.98,185.57 312.22,186.23 312.47,186.9 312.71,187.56 312.95,188.22 313.19,188.88 313.42,189.55 313.66,190.21 313.9,190.87 314.14,191.53 314.37,192.19 314.61,192.86 314.84,193.52 315.07,194.18 315.31,194.84 315.54,195.5 315.77,196.16 316,196.83 316.23,197.49 316.46,198.15 316.69,198.81 316.92,199.47 317.15,200.13 317.38,200.79 317.6,201.45 317.83,202.12 318.05,202.78 318.28,203.44 318.5,204.1 318.73,204.76 318.95,205.42 319.17,206.08 319.4,206.75 319.62,207.41 319.84,208.07 320.06,208.73 320.28,209.39 320.5,210.06 320.72,210.72 320.94,211.38 321.16,212.04 321.37,212.71 321.59,213.37 321.81,214.03 322.02,214.7 322.24,215.36 322.45,216.02 322.67,216.69 322.88,217.35 323.1,218.01 323.31,218.68 323.52,219.34 323.74,220.01 323.95,220.67 324.16,221.34 324.37,222.01 324.58,222.67 324.79,223.34 325,224 325.21,224.67 325.42,225.34 325.63,226.01 325.84,226.67 326.05,227.34 326.26,228.01 326.46,228.68 326.67,229.35 326.88,230.02 327.09,230.69 327.29,231.36 327.5,232.03 327.7,232.7 327.91,233.37 328.11,234.04 328.32,234.72 328.52,235.39 328.73,236.06 328.93,236.74 329.14,237.41 329.34,238.09 329.54,238.76 329.75,239.44 329.95,240.11 330.15,240.79 330.35,241.47 330.56,242.14 330.76,242.82 330.96,243.5 331.16,244.18 331.36,244.86 331.56,245.54 331.76,246.22 331.96,246.9 332.17,247.58 332.37,248.27 332.57,248.95 332.77,249.63 332.97,250.32" fill="none" stroke="#a020f0" stroke-width="1.15"/>
<line x1="174.25" y1="14.5" x2="174.25" y2="250.3" stroke="#ff00ff" stroke-width="1.0" stroke-dasharray="5.1 2.04" stroke-dashoffset="4.68"/>
</g>
<rect x="56.35" y="14.5" width="287.15" height="235.8" fill="none" stroke="#000" stroke-width="1.3"/>
<g>
<line x1="343.4" y1="324.3" x2="343.4" y2="314.2" stroke="#000" stroke-width="1.0" />
<line x1="343.4" y1="404.6" x2="343.4" y2="414.7" stroke="#000" stroke-width="1.0" />
<line x1="314.72" y1="324.3" x2="314.72" y2="318.9" stroke="#000" stroke-width="1.0" />
<line x1="314.72" y1="404.6" x2="314.72" y2="410" stroke="#000" stroke-width="1.0" />
<line x1="286.04" y1="324.3" x2="286.04" y2="314.2" stroke="#000" stroke-width="1.0" />
<line x1="286.04" y1="404.6" x2="286.04" y2="414.7" stroke="#000" stroke-width="1.0" />
<line x1="257.36" y1="324.3" x2="257.36" y2="318.9" stroke="#000" stroke-width="1.0" />
<line x1="257.36" y1="404.6" x2="257.36" y2="410" stroke="#000" stroke-width="1.0" />
<line x1="228.68" y1="324.3" x2="228.68" y2="314.2" stroke="#000" stroke-width="1.0" />
<line x1="228.68" y1="404.6" x2="228.68" y2="414.7" stroke="#000" stroke-width="1.0" />
<line x1="200" y1="324.3" x2="200" y2="318.9" stroke="#000" stroke-width="1.0" />
<line x1="200" y1="404.6" x2="200" y2="410" stroke="#000" stroke-width="1.0" />
<line x1="171.32" y1="324.3" x2="171.32" y2="314.2" stroke="#000" stroke-width="1.0" />
<line x1="171.32" y1="404.6" x2="171.32" y2="414.7" stroke="#000" stroke-width="1.0" />
<line x1="160" y1="324.23" x2="154.6" y2="324.23" stroke="#000" stroke-width="1.0" />
<line x1="343.4" y1="324.23" x2="348.8" y2="324.23" stroke="#000" stroke-width="1.0" />
<line x1="160" y1="329.96" x2="154.6" y2="329.96" stroke="#000" stroke-width="1.0" />
<line x1="343.4" y1="329.96" x2="348.8" y2="329.96" stroke="#000" stroke-width="1.0" />
<line x1="160" y1="335.7" x2="149.9" y2="335.7" stroke="#000" stroke-width="1.0" />
<line x1="343.4" y1="335.7" x2="353.5" y2="335.7" stroke="#000" stroke-width="1.0" />
<line x1="160" y1="341.44" x2="154.6" y2="341.44" stroke="#000" stroke-width="1.0" />
<line x1="343.4" y1="341.44" x2="348.8" y2="341.44" stroke="#000" stroke-width="1.0" />
<line x1="160" y1="347.17" x2="154.6" y2="347.17" stroke="#000" stroke-width="1.0" />
<line x1="343.4" y1="347.17" x2="348.8" y2="347.17" stroke="#000" stroke-width="1.0" />
<line x1="160" y1="352.91" x2="154.6" y2="352.91" stroke="#000" stroke-width="1.0" />
<line x1="343.4" y1="352.91" x2="348.8" y2="352.91" stroke="#000" stroke-width="1.0" />
<line x1="160" y1="358.64" x2="154.6" y2="358.64" stroke="#000" stroke-width="1.0" />
<line x1="343.4" y1="358.64" x2="348.8" y2="358.64" stroke="#000" stroke-width="1.0" />
<line x1="160" y1="364.38" x2="149.9" y2="364.38" stroke="#000" stroke-width="1.0" />
<line x1="343.4" y1="364.38" x2="353.5" y2="364.38" stroke="#000" stroke-width="1.0" />
<line x1="160" y1="370.12" x2="154.6" y2="370.12" stroke="#000" stroke-width="1.0" />
<line x1="343.4" y1="370.12" x2="348.8" y2="370.12" stroke="#000" stroke-width="1.0" />
<line x1="160" y1="375.85" x2="154.6" y2="375.85" stroke="#000" stroke-width="1.0" />
<line x1="343.4" y1="375.85" x2="348.8" y2="375.85" stroke="#000" stroke-width="1.0" />
<line x1="160" y1="381.59" x2="154.6" y2="381.59" stroke="#000" stroke-width="1.0" />
<line x1="343.4" y1="381.59" x2="348.8" y2="381.59" stroke="#000" stroke-width="1.0" />
<line x1="160" y1="387.32" x2="154.6" y2="387.32" stroke="#000" stroke-width="1.0" />
<line x1="343.4" y1="387.32" x2="348.8" y2="387.32" stroke="#000" stroke-width="1.0" />
<line x1="160" y1="393.06" x2="149.9" y2="393.06" stroke="#000" stroke-width="1.0" />
<line x1="343.4" y1="393.06" x2="353.5" y2="393.06" stroke="#000" stroke-width="1.0" />
<line x1="160" y1="398.8" x2="154.6" y2="398.8" stroke="#000" stroke-width="1.0" />
<line x1="343.4" y1="398.8" x2="348.8" y2="398.8" stroke="#000" stroke-width="1.0" />
<line x1="160" y1="404.53" x2="154.6" y2="404.53" stroke="#000" stroke-width="1.0" />
<line x1="343.4" y1="404.53" x2="348.8" y2="404.53" stroke="#000" stroke-width="1.0" />
<text x="343.4" y="313.7" font-size="11.3" text-anchor="middle" fill="#000"  stroke="#000" stroke-width="0.25">0</text>
<text x="286.04" y="313.7" font-size="11.3" text-anchor="middle" fill="#000"  stroke="#000" stroke-width="0.25">100</text>
<text x="228.68" y="313.7" font-size="11.3" text-anchor="middle" fill="#000"  stroke="#000" stroke-width="0.25">200</text>
<text x="171.32" y="313.7" font-size="11.3" text-anchor="middle" fill="#000"  stroke="#000" stroke-width="0.25">300</text>
<text x="148.6" y="339.6" font-size="11.3" text-anchor="end" fill="#000"  stroke="#000" stroke-width="0.25">0</text>
<text x="148.6" y="368.28" font-size="11.3" text-anchor="end" fill="#000"  stroke="#000" stroke-width="0.25">50</text>
<text x="148.6" y="396.96" font-size="11.3" text-anchor="end" fill="#000"  stroke="#000" stroke-width="0.25">100</text>
<text transform="translate(118.2,364.5) rotate(-90)" font-size="13.85" text-anchor="middle" stroke="#000" stroke-width="0.25">Depth [km]</text>
<text x="105.6" y="316.9" font-size="18.2" stroke="#000" stroke-width="0.25">(b)</text>
<path d="M160,335.8C170,335.82 206.67,335.85 220,335.9C233.33,335.95 231.55,335.88 240,336.1C248.45,336.32 260.48,336.87 270.7,337.2C280.92,337.53 291.08,337.72 301.3,338.1C311.52,338.48 324.98,339.18 332,339.5C339.02,339.82 341.5,339.92 343.4,340" fill="none" stroke="#a52a2a" stroke-width="1.2"/>
<path d="M160,389.1 L171.4,384.4 L181.5,380.7 L189.6,378.1 L199.8,375.8 L199.8,376.6 L197,377.7 L189.6,381.4 L181.5,385.4 L171.4,390.1 L160,395.3 Z" fill="#ffa500"/>
<path d="M160,399.6 L171.4,393.2 L181.5,387.5 L189.6,383.1 L199.8,376.8" fill="none" stroke="#228b22" stroke-width="1.1"/>
<path d="M199.73,375.96 200.35,375.64 200.97,375.32 201.59,375 202.21,374.67 202.83,374.35 203.45,374.03 204.07,373.71 204.7,373.39 205.32,373.07 205.95,372.76 206.57,372.44 207.2,372.12 207.83,371.81 208.45,371.49 209.08,371.18 209.71,370.86 210.34,370.55 210.97,370.24 211.61,369.93 212.24,369.62 212.87,369.31 213.5,369 214.14,368.69 214.77,368.39 215.41,368.08 216.05,367.78 216.68,367.47 217.32,367.17 217.96,366.87 218.6,366.57 219.24,366.27 219.88,365.97 220.52,365.68 221.17,365.38 221.81,365.09 222.45,364.8 223.1,364.5 223.74,364.21 224.39,363.92 225.03,363.64 225.68,363.35 226.33,363.06 226.98,362.78 227.63,362.5 228.27,362.22 228.93,361.94 229.58,361.66 230.23,361.38 230.88,361.1 231.53,360.83 232.19,360.56 232.84,360.29 233.5,360.02 234.15,359.75 234.81,359.48 235.46,359.22 236.12,358.95 236.78,358.69 237.44,358.43 238.1,358.17 238.76,357.92 239.42,357.66 240.08,357.41 240.74,357.16 241.41,356.91 242.07,356.66 242.73,356.41 243.4,356.17 244.06,355.93 244.73,355.69 245.39,355.45 246.06,355.21 246.73,354.98 247.4,354.74 248.06,354.51 248.73,354.28 249.4,354.06 250.07,353.83 250.75,353.61 251.42,353.39 252.09,353.17 252.76,352.95 253.44,352.74 254.11,352.52 254.78,352.31 255.46,352.11 256.14,351.9 256.81,351.7 257.49,351.49 258.17,351.3 258.84,351.1 259.52,350.9 260.2,350.71 260.88,350.52 261.56,350.33 262.24,350.15 262.92,349.97 263.61,349.78 264.29,349.61 264.97,349.43 265.66,349.26 266.34,349.09 267.02,348.92 267.71,348.75 268.39,348.59 269.08,348.43 269.77,348.27 270.46,348.12 271.14,347.96 271.83,347.81 272.52,347.66 273.21,347.52 273.9,347.38 274.59,347.24 275.28,347.1 275.97,346.97 276.67,346.84 277.36,346.71 278.05,346.58 278.74,346.46 279.44,346.34 280.13,346.22 280.83,346.11 281.52,346 282.22,345.89 282.92,345.78 283.61,345.68 284.31,345.58 285.01,345.49 285.71,345.39 286.41,345.3 287.11,345.21 287.81,345.13 288.51,345.05 289.21,344.97 289.91,344.9 290.61,344.82 291.31,344.76 292.01,344.69 292.72,344.63 293.42,344.57 294.13,344.51 294.83,344.46 295.54,344.41 296.24,344.37 296.95,344.32 297.65,344.29 298.36,344.25 299.07,344.22 299.77,344.19" fill="none" stroke="#ff0000" stroke-width="2.2"/>
<path d="M299.8,344.4C302.6,344.12 311.23,343.27 316.6,342.7C321.97,342.13 327.53,341.52 332,341C336.47,340.48 341.5,339.83 343.4,339.6" fill="none" stroke="#0000ff" stroke-width="2.2"/>
<text x="288.8" y="334.4" font-size="11.4" text-anchor="middle" fill="#a52a2a"  stroke="#a52a2a" stroke-width="0.25">Surface</text>
<text transform="translate(166.5,371.2) rotate(-17)" font-size="11.7" fill="#ffa500" stroke="#ffa500" stroke-width="0.25">Shear</text>
<text transform="translate(173,379.4) rotate(-17)" font-size="11.4" fill="#ffa500" stroke="#ffa500" stroke-width="0.25">zone</text>
<text transform="translate(212,381.5) rotate(-17)" font-size="11.9" fill="#ff0000" stroke="#ff0000" stroke-width="0.25">Fault creep part</text>
<text transform="translate(301.5,357.2) rotate(-7.2)" font-size="11.3" fill="#0000ff" stroke="#0000ff" stroke-width="0.25">Asperity</text>
<rect x="160.0" y="324.3" width="183.39999999999998" height="80.30000000000001" fill="none" stroke="#000" stroke-width="1.3"/>
</g>
<g>
<line x1="636.4" y1="324.3" x2="636.4" y2="314.2" stroke="#000" stroke-width="1.0" />
<line x1="636.4" y1="404.6" x2="636.4" y2="414.7" stroke="#000" stroke-width="1.0" />
<line x1="607.72" y1="324.3" x2="607.72" y2="318.9" stroke="#000" stroke-width="1.0" />
<line x1="607.72" y1="404.6" x2="607.72" y2="410" stroke="#000" stroke-width="1.0" />
<line x1="579.04" y1="324.3" x2="579.04" y2="314.2" stroke="#000" stroke-width="1.0" />
<line x1="579.04" y1="404.6" x2="579.04" y2="414.7" stroke="#000" stroke-width="1.0" />
<line x1="550.36" y1="324.3" x2="550.36" y2="318.9" stroke="#000" stroke-width="1.0" />
<line x1="550.36" y1="404.6" x2="550.36" y2="410" stroke="#000" stroke-width="1.0" />
<line x1="521.68" y1="324.3" x2="521.68" y2="314.2" stroke="#000" stroke-width="1.0" />
<line x1="521.68" y1="404.6" x2="521.68" y2="414.7" stroke="#000" stroke-width="1.0" />
<line x1="493" y1="324.3" x2="493" y2="318.9" stroke="#000" stroke-width="1.0" />
<line x1="493" y1="404.6" x2="493" y2="410" stroke="#000" stroke-width="1.0" />
<line x1="464.32" y1="324.3" x2="464.32" y2="314.2" stroke="#000" stroke-width="1.0" />
<line x1="464.32" y1="404.6" x2="464.32" y2="414.7" stroke="#000" stroke-width="1.0" />
<line x1="452.7" y1="324.23" x2="447.3" y2="324.23" stroke="#000" stroke-width="1.0" />
<line x1="636.4" y1="324.23" x2="641.8" y2="324.23" stroke="#000" stroke-width="1.0" />
<line x1="452.7" y1="329.96" x2="447.3" y2="329.96" stroke="#000" stroke-width="1.0" />
<line x1="636.4" y1="329.96" x2="641.8" y2="329.96" stroke="#000" stroke-width="1.0" />
<line x1="452.7" y1="335.7" x2="442.6" y2="335.7" stroke="#000" stroke-width="1.0" />
<line x1="636.4" y1="335.7" x2="646.5" y2="335.7" stroke="#000" stroke-width="1.0" />
<line x1="452.7" y1="341.44" x2="447.3" y2="341.44" stroke="#000" stroke-width="1.0" />
<line x1="636.4" y1="341.44" x2="641.8" y2="341.44" stroke="#000" stroke-width="1.0" />
<line x1="452.7" y1="347.17" x2="447.3" y2="347.17" stroke="#000" stroke-width="1.0" />
<line x1="636.4" y1="347.17" x2="641.8" y2="347.17" stroke="#000" stroke-width="1.0" />
<line x1="452.7" y1="352.91" x2="447.3" y2="352.91" stroke="#000" stroke-width="1.0" />
<line x1="636.4" y1="352.91" x2="641.8" y2="352.91" stroke="#000" stroke-width="1.0" />
<line x1="452.7" y1="358.64" x2="447.3" y2="358.64" stroke="#000" stroke-width="1.0" />
<line x1="636.4" y1="358.64" x2="641.8" y2="358.64" stroke="#000" stroke-width="1.0" />
<line x1="452.7" y1="364.38" x2="442.6" y2="364.38" stroke="#000" stroke-width="1.0" />
<line x1="636.4" y1="364.38" x2="646.5" y2="364.38" stroke="#000" stroke-width="1.0" />
<line x1="452.7" y1="370.12" x2="447.3" y2="370.12" stroke="#000" stroke-width="1.0" />
<line x1="636.4" y1="370.12" x2="641.8" y2="370.12" stroke="#000" stroke-width="1.0" />
<line x1="452.7" y1="375.85" x2="447.3" y2="375.85" stroke="#000" stroke-width="1.0" />
<line x1="636.4" y1="375.85" x2="641.8" y2="375.85" stroke="#000" stroke-width="1.0" />
<line x1="452.7" y1="381.59" x2="447.3" y2="381.59" stroke="#000" stroke-width="1.0" />
<line x1="636.4" y1="381.59" x2="641.8" y2="381.59" stroke="#000" stroke-width="1.0" />
<line x1="452.7" y1="387.32" x2="447.3" y2="387.32" stroke="#000" stroke-width="1.0" />
<line x1="636.4" y1="387.32" x2="641.8" y2="387.32" stroke="#000" stroke-width="1.0" />
<line x1="452.7" y1="393.06" x2="442.6" y2="393.06" stroke="#000" stroke-width="1.0" />
<line x1="636.4" y1="393.06" x2="646.5" y2="393.06" stroke="#000" stroke-width="1.0" />
<line x1="452.7" y1="398.8" x2="447.3" y2="398.8" stroke="#000" stroke-width="1.0" />
<line x1="636.4" y1="398.8" x2="641.8" y2="398.8" stroke="#000" stroke-width="1.0" />
<line x1="452.7" y1="404.53" x2="447.3" y2="404.53" stroke="#000" stroke-width="1.0" />
<line x1="636.4" y1="404.53" x2="641.8" y2="404.53" stroke="#000" stroke-width="1.0" />
<text x="636.4" y="313.7" font-size="11.3" text-anchor="middle" fill="#000"  stroke="#000" stroke-width="0.25">0</text>
<text x="579.04" y="313.7" font-size="11.3" text-anchor="middle" fill="#000"  stroke="#000" stroke-width="0.25">100</text>
<text x="521.68" y="313.7" font-size="11.3" text-anchor="middle" fill="#000"  stroke="#000" stroke-width="0.25">200</text>
<text x="464.32" y="313.7" font-size="11.3" text-anchor="middle" fill="#000"  stroke="#000" stroke-width="0.25">300</text>
<text x="441.6" y="339.6" font-size="11.3" text-anchor="end" fill="#000"  stroke="#000" stroke-width="0.25">0</text>
<text x="441.6" y="368.28" font-size="11.3" text-anchor="end" fill="#000"  stroke="#000" stroke-width="0.25">50</text>
<text x="441.6" y="396.96" font-size="11.3" text-anchor="end" fill="#000"  stroke="#000" stroke-width="0.25">100</text>
<text transform="translate(411.2,364.5) rotate(-90)" font-size="13.85" text-anchor="middle" stroke="#000" stroke-width="0.25">Depth [km]</text>
<text x="398.6" y="316.9" font-size="18.2" stroke="#000" stroke-width="0.25">(d)</text>
<path d="M453,335.8C463,335.82 499.67,335.85 513,335.9C526.33,335.95 524.55,335.88 533,336.1C541.45,336.32 553.48,336.87 563.7,337.2C573.92,337.53 584.08,337.72 594.3,338.1C604.52,338.48 617.98,339.18 625,339.5C632.02,339.82 634.5,339.92 636.4,340" fill="none" stroke="#a52a2a" stroke-width="1.2"/>
<path d="M453,389.1 L464.4,384.4 L474.5,380.7 L482.6,378.1 L492.8,375.8 L492.8,376.6 L490,377.7 L482.6,381.4 L474.5,385.4 L464.4,390.1 L453,395.3 Z" fill="#ffa500"/>
<path d="M453,399.6 L464.4,393.2 L474.5,387.5 L482.6,383.1 L492.8,376.8" fill="none" stroke="#228b22" stroke-width="1.1"/>
<path d="M492.73,375.96 493.35,375.64 493.97,375.32 494.59,375 495.21,374.67 495.83,374.35 496.45,374.03 497.07,373.71 497.7,373.39 498.32,373.07 498.95,372.76 499.57,372.44 500.2,372.12 500.83,371.81 501.45,371.49 502.08,371.18 502.71,370.86 503.34,370.55 503.97,370.24 504.61,369.93 505.24,369.62 505.87,369.31 506.5,369 507.14,368.69 507.77,368.39 508.41,368.08 509.05,367.78 509.68,367.47 510.32,367.17 510.96,366.87 511.6,366.57 512.24,366.27 512.88,365.97 513.52,365.68 514.17,365.38 514.81,365.09 515.45,364.8 516.1,364.5 516.74,364.21 517.39,363.92 518.03,363.64 518.68,363.35 519.33,363.06 519.98,362.78 520.63,362.5 521.27,362.22 521.93,361.94 522.58,361.66 523.23,361.38 523.88,361.1 524.53,360.83 525.19,360.56 525.84,360.29 526.5,360.02 527.15,359.75 527.81,359.48 528.46,359.22 529.12,358.95 529.78,358.69 530.44,358.43 531.1,358.17 531.76,357.92 532.42,357.66 533.08,357.41 533.74,357.16 534.41,356.91 535.07,356.66 535.73,356.41 536.4,356.17 537.06,355.93 537.73,355.69 538.39,355.45 539.06,355.21 539.73,354.98 540.4,354.74 541.06,354.51 541.73,354.28 542.4,354.06 543.07,353.83 543.75,353.61 544.42,353.39 545.09,353.17 545.76,352.95 546.44,352.74 547.11,352.52 547.78,352.31 548.46,352.11 549.14,351.9 549.81,351.7 550.49,351.49 551.17,351.3 551.84,351.1 552.52,350.9 553.2,350.71 553.88,350.52 554.56,350.33 555.24,350.15 555.92,349.97 556.61,349.78 557.29,349.61 557.97,349.43 558.66,349.26 559.34,349.09 560.02,348.92 560.71,348.75 561.39,348.59 562.08,348.43 562.77,348.27 563.46,348.12 564.14,347.96 564.83,347.81 565.52,347.66 566.21,347.52 566.9,347.38 567.59,347.24 568.28,347.1 568.97,346.97 569.67,346.84 570.36,346.71 571.05,346.58 571.74,346.46 572.44,346.34 573.13,346.22 573.83,346.11 574.52,346 575.22,345.89 575.92,345.78 576.61,345.68 577.31,345.58 578.01,345.49 578.71,345.39 579.41,345.3 580.11,345.21 580.81,345.13 581.51,345.05 582.21,344.97 582.91,344.9 583.61,344.82 584.31,344.76 585.01,344.69 585.72,344.63 586.42,344.57 587.13,344.51 587.83,344.46 588.54,344.41 589.24,344.37 589.95,344.32 590.65,344.29 591.36,344.25 592.07,344.22 592.77,344.19" fill="none" stroke="#ff0000" stroke-width="2.2"/>
<path d="M592.8,344.4C595.6,344.12 604.23,343.27 609.6,342.7C614.97,342.13 620.53,341.52 625,341C629.47,340.48 634.5,339.83 636.4,339.6" fill="none" stroke="#0000ff" stroke-width="2.2"/>
<text x="581.8" y="334.4" font-size="11.4" text-anchor="middle" fill="#a52a2a"  stroke="#a52a2a" stroke-width="0.25">Surface</text>
<text transform="translate(459.5,371.2) rotate(-17)" font-size="11.7" fill="#ffa500" stroke="#ffa500" stroke-width="0.25">Shear</text>
<text transform="translate(466,379.4) rotate(-17)" font-size="11.4" fill="#ffa500" stroke="#ffa500" stroke-width="0.25">zone</text>
<text transform="translate(505,381.5) rotate(-17)" font-size="11.9" fill="#ff0000" stroke="#ff0000" stroke-width="0.25">Fault creep part</text>
<text transform="translate(594.5,357.2) rotate(-7.2)" font-size="11.3" fill="#0000ff" stroke="#0000ff" stroke-width="0.25">Asperity</text>
<rect x="452.7" y="324.3" width="183.7" height="80.30000000000001" fill="none" stroke="#000" stroke-width="1.3"/>
</g>
<text x="544.5" y="293.6" font-size="13.85" text-anchor="middle" fill="#000"  stroke="#000" stroke-width="0.25">Distance from the trench [km]</text>
<line x1="343.4" y1="437.4" x2="343.4" y2="427.3" stroke="#000" stroke-width="1.0" />
<line x1="343.4" y1="647.8" x2="343.4" y2="657.9" stroke="#000" stroke-width="1.0" />
<line x1="314.72" y1="437.4" x2="314.72" y2="432" stroke="#000" stroke-width="1.0" />
<line x1="314.72" y1="647.8" x2="314.72" y2="653.2" stroke="#000" stroke-width="1.0" />
<line x1="286.04" y1="437.4" x2="286.04" y2="427.3" stroke="#000" stroke-width="1.0" />
<line x1="286.04" y1="647.8" x2="286.04" y2="657.9" stroke="#000" stroke-width="1.0" />
<line x1="257.36" y1="437.4" x2="257.36" y2="432" stroke="#000" stroke-width="1.0" />
<line x1="257.36" y1="647.8" x2="257.36" y2="653.2" stroke="#000" stroke-width="1.0" />
<line x1="228.68" y1="437.4" x2="228.68" y2="427.3" stroke="#000" stroke-width="1.0" />
<line x1="228.68" y1="647.8" x2="228.68" y2="657.9" stroke="#000" stroke-width="1.0" />
<line x1="200" y1="437.4" x2="200" y2="432" stroke="#000" stroke-width="1.0" />
<line x1="200" y1="647.8" x2="200" y2="653.2" stroke="#000" stroke-width="1.0" />
<line x1="171.32" y1="437.4" x2="171.32" y2="427.3" stroke="#000" stroke-width="1.0" />
<line x1="171.32" y1="647.8" x2="171.32" y2="657.9" stroke="#000" stroke-width="1.0" />
<line x1="160" y1="647.58" x2="154.6" y2="647.58" stroke="#000" stroke-width="1.0" />
<line x1="343.4" y1="647.58" x2="348.8" y2="647.58" stroke="#000" stroke-width="1.0" />
<line x1="160" y1="633.55" x2="154.6" y2="633.55" stroke="#000" stroke-width="1.0" />
<line x1="343.4" y1="633.55" x2="348.8" y2="633.55" stroke="#000" stroke-width="1.0" />
<line x1="160" y1="619.52" x2="149.9" y2="619.52" stroke="#000" stroke-width="1.0" />
<line x1="343.4" y1="619.52" x2="353.5" y2="619.52" stroke="#000" stroke-width="1.0" />
<line x1="160" y1="605.49" x2="154.6" y2="605.49" stroke="#000" stroke-width="1.0" />
<line x1="343.4" y1="605.49" x2="348.8" y2="605.49" stroke="#000" stroke-width="1.0" />
<line x1="160" y1="591.46" x2="154.6" y2="591.46" stroke="#000" stroke-width="1.0" />
<line x1="343.4" y1="591.46" x2="348.8" y2="591.46" stroke="#000" stroke-width="1.0" />
<line x1="160" y1="577.43" x2="154.6" y2="577.43" stroke="#000" stroke-width="1.0" />
<line x1="343.4" y1="577.43" x2="348.8" y2="577.43" stroke="#000" stroke-width="1.0" />
<line x1="160" y1="563.4" x2="149.9" y2="563.4" stroke="#000" stroke-width="1.0" />
<line x1="343.4" y1="563.4" x2="353.5" y2="563.4" stroke="#000" stroke-width="1.0" />
<line x1="160" y1="549.37" x2="154.6" y2="549.37" stroke="#000" stroke-width="1.0" />
<line x1="343.4" y1="549.37" x2="348.8" y2="549.37" stroke="#000" stroke-width="1.0" />
<line x1="160" y1="535.34" x2="154.6" y2="535.34" stroke="#000" stroke-width="1.0" />
<line x1="343.4" y1="535.34" x2="348.8" y2="535.34" stroke="#000" stroke-width="1.0" />
<line x1="160" y1="521.31" x2="154.6" y2="521.31" stroke="#000" stroke-width="1.0" />
<line x1="343.4" y1="521.31" x2="348.8" y2="521.31" stroke="#000" stroke-width="1.0" />
<line x1="160" y1="507.28" x2="149.9" y2="507.28" stroke="#000" stroke-width="1.0" />
<line x1="343.4" y1="507.28" x2="353.5" y2="507.28" stroke="#000" stroke-width="1.0" />
<line x1="160" y1="493.25" x2="154.6" y2="493.25" stroke="#000" stroke-width="1.0" />
<line x1="343.4" y1="493.25" x2="348.8" y2="493.25" stroke="#000" stroke-width="1.0" />
<line x1="160" y1="479.22" x2="154.6" y2="479.22" stroke="#000" stroke-width="1.0" />
<line x1="343.4" y1="479.22" x2="348.8" y2="479.22" stroke="#000" stroke-width="1.0" />
<line x1="160" y1="465.19" x2="154.6" y2="465.19" stroke="#000" stroke-width="1.0" />
<line x1="343.4" y1="465.19" x2="348.8" y2="465.19" stroke="#000" stroke-width="1.0" />
<line x1="160" y1="451.16" x2="149.9" y2="451.16" stroke="#000" stroke-width="1.0" />
<line x1="343.4" y1="451.16" x2="353.5" y2="451.16" stroke="#000" stroke-width="1.0" />
<line x1="160" y1="437.13" x2="154.6" y2="437.13" stroke="#000" stroke-width="1.0" />
<line x1="343.4" y1="437.13" x2="348.8" y2="437.13" stroke="#000" stroke-width="1.0" />
<text x="343.4" y="427.4" font-size="11.3" text-anchor="middle" fill="#000"  stroke="#000" stroke-width="0.25">0</text>
<text x="286.04" y="427.4" font-size="11.3" text-anchor="middle" fill="#000"  stroke="#000" stroke-width="0.25">100</text>
<text x="228.68" y="427.4" font-size="11.3" text-anchor="middle" fill="#000"  stroke="#000" stroke-width="0.25">200</text>
<text x="171.32" y="427.4" font-size="11.3" text-anchor="middle" fill="#000"  stroke="#000" stroke-width="0.25">300</text>
<text x="360.6" y="455.06" font-size="11.3" text-anchor="start" fill="#000"  stroke="#000" stroke-width="0.25">8</text>
<text x="360.6" y="511.18" font-size="11.3" text-anchor="start" fill="#000"  stroke="#000" stroke-width="0.25">4</text>
<text x="360.6" y="567.3" font-size="11.3" text-anchor="start" fill="#000"  stroke="#000" stroke-width="0.25">0</text>
<text x="354.6" y="623.42" font-size="11.3" text-anchor="start" fill="#000"  stroke="#000" stroke-width="0.25">−4</text>
<text transform="translate(389.2,542.7) rotate(-90)" font-size="13.85" text-anchor="middle" stroke="#000" stroke-width="0.25">Slip deficit rate [cm/year]</text>
<text x="105.5" y="437.3" font-size="18.2" stroke="#000" stroke-width="0.25">(c)</text>
<line x1="160" y1="563.4" x2="343.4" y2="563.4" stroke="#777" stroke-width="1" />
<line x1="160" y1="446.4" x2="343.4" y2="446.4" stroke="#000" stroke-width="1.3" />
<clipPath id="cc"><rect x="160.0" y="437.4" width="183.39999999999998" height="210.39999999999998"/></clipPath>
<g clip-path="url(#cc)">
<path d="M190.7,645.5 L187.4,641.5 L184,633.3 L181.9,627.8 L179.2,620.3 L177.1,614.8 L173.7,607.3 L171.6,601.1 L168.5,593.6 L166.2,589.5 L163.8,585.3" fill="none" stroke="#00ff00" stroke-width="1.15" stroke-dasharray="9 5" stroke-dashoffset="9"/>
<path d="M190.72,645.66 191.38,645.85 192.04,645.99 192.7,646.1 193.37,646.17 194.04,646.23 194.72,646.27 195.4,646.3 196.08,646.33 196.78,646.37 197.48,646.41 198.18,646.46 198.89,646.5 199.61,646.55 200.33,646.6 201.05,646.65 201.77,646.69 202.5,646.74 203.22,646.77 203.95,646.8 204.67,646.82 205.4,646.83 206.12,646.82 206.83,646.81 207.55,646.78 208.25,646.74 208.96,646.68 209.65,646.6 210.34,646.5 211.02,646.38 211.7,646.24 212.37,646.09 213.03,645.92 213.68,645.73 214.34,645.53 214.98,645.31 215.63,645.08 216.27,644.84 216.9,644.58 217.54,644.32 218.17,644.05 218.8,643.77 219.42,643.49 220.05,643.19 220.68,642.9 221.31,642.6 221.93,642.29 222.56,641.99 223.19,641.69 223.82,641.38 224.46,641.08 225.1,640.78 225.74,640.48 226.38,640.18 227.03,639.89 227.68,639.6 228.33,639.31 228.98,639.02 229.63,638.73 230.29,638.45 230.94,638.16 231.59,637.87 232.25,637.58 232.9,637.29 233.56,637 234.21,636.71 234.86,636.42 235.51,636.12 236.16,635.82 236.8,635.52 237.45,635.21 238.09,634.9 238.72,634.59 239.36,634.27 239.99,633.94 240.61,633.61 241.23,633.28 241.85,632.94 242.46,632.59 243.06,632.24 243.66,631.88 244.26,631.51 244.84,631.13 245.42,630.75 246,630.35 246.56,629.95 247.12,629.54 247.67,629.12 248.22,628.69 248.75,628.25 249.28,627.8 249.8,627.35 250.31,626.88 250.82,626.41 251.32,625.93 251.81,625.44 252.3,624.95 252.78,624.45 253.26,623.94 253.73,623.42 254.19,622.9 254.65,622.37 255.1,621.84 255.54,621.3 255.98,620.76 256.42,620.21 256.85,619.66 257.28,619.1 257.7,618.53 258.11,617.97 258.53,617.4 258.94,616.82 259.34,616.24 259.74,615.66 260.14,615.08 260.53,614.49 260.92,613.9 261.31,613.31 261.69,612.72 262.07,612.12 262.45,611.52 262.82,610.92 263.19,610.32 263.56,609.72 263.93,609.12 264.29,608.51 264.65,607.9 265.01,607.3 265.36,606.68 265.71,606.07 266.06,605.46 266.4,604.84 266.74,604.23 267.08,603.61 267.42,602.99 267.75,602.37 268.08,601.75 268.41,601.12 268.73,600.5 269.06,599.87 269.37,599.24 269.69,598.61 270,597.98 270.31,597.35 270.62,596.72 270.92,596.08 271.22,595.44 271.52,594.81 271.82,594.17 272.11,593.53 272.4,592.89 272.69,592.24 272.97,591.6 273.25,590.96 273.53,590.31 273.81,589.66 274.08,589.01 274.35,588.36 274.61,587.71 274.88,587.06 275.14,586.41 275.4,585.75 275.65,585.1 275.9,584.44 276.15,583.79 276.4,583.13 276.65,582.47 276.89,581.81 277.12,581.15 277.36,580.49 277.59,579.82 277.82,579.16 278.05,578.49 278.27,577.83 278.49,577.16 278.71,576.49 278.93,575.82 279.14,575.16 279.35,574.49 279.56,573.81 279.76,573.14 279.97,572.47 280.16,571.8 280.36,571.12 280.55,570.45 280.74,569.77 280.93,569.1 281.12,568.42 281.3,567.74 281.48,567.07 281.66,566.39 281.83,565.71 282,565.03 282.17,564.35 282.34,563.67 282.5,562.98 282.66,562.3 282.82,561.62 282.97,560.94 283.12,560.25 283.27,559.57 283.42,558.88 283.57,558.2 283.71,557.51 283.85,556.83 283.99,556.14 284.13,555.45 284.27,554.77 284.4,554.08 284.53,553.39 284.67,552.7 284.8,552.02 284.93,551.33 285.06,550.64 285.18,549.95 285.31,549.26 285.43,548.57 285.56,547.88 285.68,547.19 285.81,546.5 285.93,545.81 286.06,545.12 286.18,544.43 286.3,543.74 286.43,543.05 286.55,542.36 286.67,541.67 286.8,540.98 286.92,540.29 287.05,539.59 287.17,538.9 287.3,538.21 287.43,537.52 287.55,536.83 287.68,536.14 287.81,535.45 287.94,534.76 288.08,534.07 288.21,533.38 288.35,532.69 288.49,532 288.62,531.31 288.77,530.62 288.91,529.93 289.05,529.24 289.2,528.55 289.35,527.87 289.5,527.18 289.66,526.49 289.81,525.8 289.97,525.11 290.13,524.43 290.3,523.74 290.46,523.05 290.63,522.37 290.8,521.68 290.97,521 291.14,520.31 291.32,519.63 291.49,518.94 291.67,518.26 291.85,517.57 292.02,516.89 292.2,516.21 292.38,515.52 292.57,514.84 292.75,514.16 292.93,513.48 293.11,512.79 293.29,512.11 293.48,511.43 293.66,510.75 293.84,510.06 294.02,509.38 294.2,508.7 294.38,508.02 294.56,507.34 294.74,506.66 294.92,505.98 295.09,505.3 295.27,504.61 295.44,503.93 295.62,503.25 295.79,502.57 295.96,501.89 296.12,501.21 296.29,500.53 296.45,499.85 296.62,499.17 296.77,498.49 296.93,497.81 297.08,497.13 297.24,496.45 297.38,495.77 297.53,495.09 297.68,494.41 297.82,493.73 297.96,493.05 298.09,492.37 298.23,491.69 298.36,491.01 298.5,490.33 298.63,489.65 298.75,488.97 298.88,488.29 299.01,487.61 299.13,486.93 299.26,486.24 299.38,485.56 299.5,484.88 299.62,484.19 299.74,483.51 299.86,482.82 299.98,482.14 300.1,481.45 300.22,480.77 300.34,480.08 300.45,479.39 300.57,478.71 300.69,478.02 300.81,477.33 300.93,476.64 301.05,475.95 301.17,475.26 301.29,474.56 301.41,473.87 301.53,473.18 301.65,472.48 301.77,471.78 301.9,471.09 302.02,470.39 302.15,469.69 302.28,468.99 302.41,468.29 302.54,467.59 302.67,466.89 302.81,466.18 302.95,465.48 303.08,464.77 303.23,464.06 303.37,463.36 303.51,462.65 303.66,461.93 303.81,461.22 303.97,460.51 304.12,459.79 304.28,459.08 304.44,458.36 304.61,457.64 304.77,456.92 304.95,456.2 305.13,455.49 305.33,454.79 305.53,454.1 305.76,453.44 306.01,452.79 306.28,452.18 306.58,451.59 306.91,451.04 307.27,450.53 307.67,450.06 308.1,449.64 308.58,449.28 309.1,448.97 309.66,448.71 310.27,448.5 310.91,448.34 311.58,448.22 312.27,448.12 312.98,448.05 313.72,448.01 314.46,447.97 315.21,447.95 315.96,447.93 316.71,447.9 317.46,447.86 318.19,447.81 318.91,447.74 319.62,447.66 320.31,447.56 321,447.45 321.68,447.34 322.36,447.22 323.03,447.1 323.7,446.98 324.37,446.87 325.04,446.77 325.71,446.67 326.39,446.59 327.08,446.53 327.77,446.49 328.48,446.48" fill="none" stroke="#00ff00" stroke-width="1.15" stroke-linejoin="round"/>
<path d="M190.7,603.5 L189,603.8 L186,602.5 L179.9,596.3 L176.4,592.9 L170.3,586 L167.5,581.9 L163.8,577.8" fill="none" stroke="#ff00ff" stroke-width="1.15" stroke-dasharray="9 5" stroke-dashoffset="9"/>
<path d="M190.78,603.67 191.38,603.31 191.99,602.97 192.61,602.65 193.23,602.34 193.86,602.04 194.49,601.75 195.13,601.47 195.78,601.21 196.43,600.95 197.08,600.71 197.74,600.47 198.4,600.24 199.06,600.02 199.73,599.81 200.4,599.61 201.07,599.41 201.75,599.22 202.43,599.03 203.11,598.85 203.79,598.68 204.47,598.51 205.16,598.34 205.84,598.17 206.52,598.01 207.21,597.85 207.9,597.69 208.58,597.53 209.26,597.37 209.95,597.22 210.63,597.06 211.31,596.9 212,596.74 212.68,596.59 213.36,596.43 214.04,596.27 214.72,596.11 215.39,595.94 216.07,595.78 216.75,595.61 217.43,595.45 218.1,595.28 218.78,595.11 219.45,594.93 220.12,594.76 220.8,594.58 221.47,594.39 222.14,594.21 222.81,594.02 223.48,593.83 224.15,593.63 224.82,593.43 225.48,593.22 226.15,593.01 226.82,592.8 227.48,592.58 228.15,592.35 228.81,592.13 229.47,591.89 230.14,591.65 230.8,591.4 231.46,591.15 232.11,590.9 232.77,590.63 233.43,590.37 234.08,590.09 234.73,589.81 235.38,589.53 236.03,589.24 236.67,588.94 237.32,588.64 237.96,588.34 238.6,588.02 239.23,587.71 239.87,587.38 240.5,587.05 241.12,586.72 241.75,586.38 242.37,586.03 242.98,585.68 243.6,585.32 244.21,584.95 244.81,584.58 245.41,584.21 246.01,583.83 246.6,583.44 247.19,583.05 247.78,582.65 248.36,582.24 248.93,581.83 249.5,581.42 250.07,580.99 250.63,580.57 251.18,580.13 251.73,579.69 252.28,579.25 252.82,578.79 253.35,578.34 253.88,577.87 254.4,577.4 254.91,576.93 255.42,576.44 255.92,575.95 256.42,575.46 256.91,574.96 257.39,574.45 257.87,573.94 258.33,573.42 258.8,572.9 259.25,572.37 259.7,571.83 260.14,571.29 260.58,570.74 261.01,570.19 261.43,569.63 261.85,569.07 262.26,568.51 262.67,567.93 263.07,567.36 263.47,566.78 263.86,566.2 264.25,565.61 264.63,565.02 265.01,564.42 265.38,563.83 265.75,563.23 266.12,562.62 266.48,562.02 266.84,561.41 267.2,560.8 267.55,560.18 267.9,559.57 268.25,558.95 268.59,558.33 268.93,557.71 269.27,557.09 269.61,556.47 269.94,555.84 270.28,555.22 270.61,554.59 270.94,553.97 271.27,553.34 271.59,552.71 271.92,552.08 272.24,551.46 272.57,550.83 272.89,550.2 273.21,549.57 273.53,548.95 273.85,548.32 274.17,547.69 274.48,547.06 274.8,546.43 275.11,545.8 275.43,545.17 275.74,544.54 276.05,543.91 276.36,543.28 276.67,542.65 276.97,542.02 277.28,541.39 277.58,540.76 277.89,540.13 278.19,539.5 278.49,538.86 278.79,538.23 279.09,537.6 279.38,536.96 279.68,536.33 279.97,535.7 280.26,535.06 280.55,534.43 280.84,533.79 281.13,533.15 281.42,532.52 281.7,531.88 281.99,531.24 282.27,530.61 282.55,529.97 282.83,529.33 283.11,528.69 283.39,528.05 283.66,527.41 283.94,526.77 284.21,526.13 284.48,525.49 284.75,524.84 285.02,524.2 285.29,523.56 285.55,522.91 285.82,522.27 286.08,521.62 286.34,520.98 286.6,520.33 286.86,519.68 287.11,519.03 287.37,518.39 287.62,517.74 287.87,517.09 288.12,516.43 288.37,515.78 288.62,515.13 288.86,514.48 289.11,513.82 289.35,513.17 289.59,512.52 289.83,511.86 290.06,511.2 290.3,510.55 290.53,509.89 290.77,509.23 291,508.57 291.22,507.91 291.45,507.25 291.68,506.58 291.9,505.92 292.12,505.26 292.34,504.59 292.56,503.93 292.78,503.26 292.99,502.59 293.21,501.92 293.42,501.25 293.63,500.58 293.83,499.91 294.04,499.24 294.25,498.57 294.45,497.89 294.65,497.22 294.85,496.54 295.04,495.86 295.24,495.19 295.43,494.51 295.62,493.83 295.81,493.14 296,492.46 296.19,491.78 296.37,491.09 296.55,490.41 296.74,489.72 296.91,489.03 297.09,488.35 297.26,487.66 297.44,486.96 297.61,486.27 297.78,485.58 297.94,484.88 298.11,484.19 298.27,483.49 298.43,482.79 298.59,482.09 298.75,481.39 298.9,480.69 299.06,479.99 299.21,479.28 299.36,478.58 299.5,477.87 299.65,477.16 299.79,476.46 299.93,475.74 300.07,475.03 300.21,474.32 300.34,473.61 300.47,472.89 300.6,472.17 300.73,471.45 300.86,470.73 300.99,470.02 301.11,469.3 301.24,468.58 301.37,467.86 301.5,467.15 301.63,466.43 301.77,465.73 301.91,465.02 302.06,464.32 302.21,463.62 302.36,462.93 302.53,462.24 302.7,461.56 302.87,460.88 303.06,460.21 303.25,459.55 303.46,458.9 303.68,458.26 303.9,457.62 304.14,456.99 304.39,456.38 304.65,455.77 304.93,455.18 305.22,454.59 305.53,454.02 305.85,453.46 306.19,452.92 306.54,452.39 306.92,451.87 307.31,451.36 307.72,450.88 308.14,450.4 308.59,449.95 309.06,449.51 309.56,449.09 310.08,448.71 310.63,448.36 311.22,448.06 311.84,447.8 312.5,447.61 313.21,447.48 313.96,447.41 314.77,447.43" fill="none" stroke="#ff00ff" stroke-width="1.15" stroke-linejoin="round"/>
<path d="M190.9,560.5 L186.9,562.1 L178.7,565.4 L174.1,566.4 L164.6,566.4" fill="none" stroke="#ff0000" stroke-width="1.15" stroke-dasharray="9 5" stroke-dashoffset="9"/>
<path d="M190.83,560.35 191.44,559.99 192.05,559.64 192.67,559.3 193.29,558.96 193.91,558.63 194.53,558.3 195.16,557.98 195.78,557.67 196.41,557.36 197.05,557.05 197.68,556.75 198.32,556.46 198.96,556.17 199.6,555.89 200.25,555.61 200.89,555.33 201.54,555.06 202.19,554.79 202.84,554.53 203.49,554.26 204.14,554.01 204.8,553.75 205.46,553.5 206.11,553.26 206.77,553.01 207.43,552.77 208.09,552.53 208.76,552.29 209.42,552.06 210.08,551.82 210.75,551.59 211.42,551.36 212.08,551.13 212.75,550.91 213.42,550.68 214.09,550.46 214.75,550.23 215.42,550.01 216.09,549.79 216.76,549.56 217.43,549.34 218.1,549.12 218.77,548.9 219.44,548.68 220.11,548.45 220.78,548.23 221.45,548.01 222.12,547.78 222.78,547.56 223.45,547.33 224.12,547.1 224.78,546.87 225.45,546.64 226.11,546.4 226.78,546.17 227.44,545.93 228.1,545.69 228.76,545.45 229.42,545.2 230.08,544.95 230.74,544.7 231.4,544.45 232.05,544.19 232.7,543.93 233.35,543.66 234,543.39 234.65,543.12 235.3,542.84 235.94,542.56 236.58,542.27 237.22,541.98 237.86,541.69 238.5,541.39 239.13,541.08 239.77,540.77 240.39,540.46 241.02,540.13 241.65,539.81 242.27,539.47 242.89,539.14 243.51,538.79 244.12,538.45 244.73,538.09 245.34,537.73 245.95,537.37 246.55,537 247.15,536.63 247.75,536.25 248.35,535.87 248.94,535.48 249.53,535.09 250.12,534.69 250.71,534.29 251.29,533.89 251.87,533.48 252.44,533.06 253.02,532.65 253.59,532.22 254.15,531.8 254.72,531.36 255.28,530.93 255.84,530.49 256.39,530.05 256.94,529.6 257.49,529.15 258.04,528.7 258.58,528.24 259.12,527.78 259.65,527.31 260.19,526.85 260.72,526.37 261.24,525.9 261.76,525.42 262.28,524.94 262.8,524.45 263.31,523.97 263.82,523.47 264.32,522.98 264.82,522.48 265.32,521.98 265.81,521.48 266.3,520.98 266.79,520.47 267.27,519.96 267.75,519.44 268.23,518.93 268.7,518.41 269.17,517.88 269.64,517.36 270.1,516.83 270.56,516.3 271.02,515.77 271.47,515.23 271.92,514.7 272.37,514.15 272.81,513.61 273.25,513.07 273.69,512.52 274.12,511.97 274.55,511.42 274.98,510.86 275.41,510.3 275.83,509.74 276.25,509.18 276.66,508.62 277.07,508.05 277.48,507.48 277.89,506.91 278.3,506.34 278.7,505.76 279.1,505.19 279.49,504.61 279.88,504.02 280.27,503.44 280.66,502.86 281.05,502.27 281.43,501.68 281.81,501.09 282.18,500.49 282.56,499.9 282.93,499.3 283.3,498.7 283.67,498.1 284.03,497.5 284.39,496.89 284.75,496.29 285.11,495.68 285.46,495.07 285.81,494.46 286.16,493.85 286.51,493.23 286.85,492.61 287.2,492 287.54,491.38 287.87,490.76 288.21,490.13 288.54,489.51 288.87,488.89 289.2,488.26 289.53,487.63 289.86,487 290.18,486.37 290.5,485.74 290.82,485.1 291.13,484.47 291.45,483.83 291.76,483.2 292.07,482.56 292.38,481.92 292.69,481.28 293,480.64 293.3,479.99 293.6,479.35 293.9,478.7 294.2,478.06 294.49,477.41 294.79,476.76 295.08,476.11 295.37,475.46 295.66,474.81 295.95,474.16 296.24,473.51 296.52,472.86 296.81,472.2 297.09,471.55 297.37,470.89 297.65,470.24 297.93,469.58 298.2,468.92 298.48,468.26 298.75,467.6 299.02,466.94 299.29,466.28 299.56,465.62 299.83,464.96 300.1,464.3 300.36,463.64 300.63,462.98 300.89,462.31 301.15,461.65 301.41,460.99 301.68,460.32 301.94,459.66 302.21,459.01 302.48,458.36 302.75,457.71 303.03,457.08 303.32,456.45 303.62,455.84 303.92,455.23 304.24,454.64 304.57,454.06 304.92,453.5 305.27,452.96 305.65,452.43 306.03,451.92 306.44,451.44 306.87,450.97 307.31,450.53 307.78,450.12 308.27,449.73 308.79,449.36 309.32,449.03 309.89,448.72 310.48,448.45 311.1,448.21 311.75,448 312.43,447.83 313.14,447.7 313.89,447.6 314.66,447.54" fill="none" stroke="#ff0000" stroke-width="1.15" stroke-linejoin="round"/>
<path d="M190.9,541.3 L186.9,543.5 L180.5,549.2 L176.9,552.1 L168.7,556.9 L163.6,559.2" fill="none" stroke="#ffa500" stroke-width="1.15" stroke-dasharray="9 5" stroke-dashoffset="9"/>
<path d="M190.86,540.87 191.5,540.63 192.14,540.4 192.78,540.16 193.42,539.92 194.07,539.68 194.71,539.44 195.36,539.21 196,538.97 196.65,538.73 197.3,538.49 197.95,538.25 198.6,538.01 199.25,537.77 199.9,537.53 200.55,537.29 201.2,537.05 201.85,536.81 202.51,536.56 203.16,536.32 203.81,536.08 204.47,535.83 205.12,535.59 205.78,535.34 206.44,535.1 207.09,534.85 207.75,534.6 208.41,534.35 209.06,534.11 209.72,533.86 210.38,533.61 211.04,533.35 211.69,533.1 212.35,532.85 213.01,532.59 213.67,532.34 214.33,532.08 214.98,531.83 215.64,531.57 216.3,531.31 216.96,531.05 217.62,530.79 218.27,530.52 218.93,530.26 219.59,529.99 220.24,529.73 220.9,529.46 221.55,529.19 222.21,528.92 222.86,528.65 223.52,528.37 224.17,528.1 224.83,527.82 225.48,527.54 226.13,527.27 226.78,526.98 227.43,526.7 228.08,526.42 228.73,526.13 229.38,525.85 230.03,525.56 230.67,525.27 231.32,524.97 231.96,524.68 232.61,524.38 233.25,524.08 233.89,523.78 234.53,523.48 235.17,523.18 235.81,522.87 236.45,522.57 237.09,522.26 237.72,521.94 238.36,521.63 238.99,521.32 239.62,521 240.25,520.68 240.88,520.35 241.5,520.03 242.13,519.7 242.75,519.37 243.38,519.04 244,518.71 244.62,518.37 245.23,518.04 245.85,517.7 246.47,517.35 247.08,517.01 247.69,516.66 248.3,516.31 248.91,515.95 249.51,515.6 250.11,515.24 250.72,514.88 251.32,514.52 251.91,514.15 252.51,513.78 253.1,513.41 253.7,513.03 254.28,512.66 254.87,512.28 255.46,511.89 256.04,511.51 256.62,511.12 257.2,510.73 257.77,510.33 258.35,509.93 258.92,509.53 259.49,509.13 260.05,508.72 260.62,508.31 261.18,507.9 261.74,507.48 262.3,507.06 262.85,506.64 263.4,506.21 263.95,505.78 264.49,505.35 265.04,504.92 265.58,504.48 266.11,504.03 266.65,503.59 267.18,503.14 267.71,502.68 268.23,502.23 268.76,501.77 269.27,501.3 269.79,500.84 270.3,500.36 270.81,499.89 271.32,499.41 271.83,498.93 272.33,498.44 272.82,497.95 273.32,497.46 273.81,496.96 274.3,496.46 274.78,495.96 275.26,495.45 275.74,494.93 276.21,494.42 276.68,493.9 277.15,493.37 277.61,492.84 278.07,492.31 278.53,491.77 278.98,491.23 279.43,490.69 279.88,490.15 280.32,489.6 280.76,489.04 281.2,488.49 281.64,487.93 282.07,487.37 282.5,486.8 282.93,486.23 283.35,485.67 283.77,485.09 284.19,484.52 284.61,483.94 285.03,483.36 285.44,482.78 285.85,482.2 286.26,481.61 286.67,481.03 287.07,480.44 287.48,479.85 287.88,479.26 288.28,478.66 288.68,478.07 289.07,477.47 289.47,476.88 289.86,476.28 290.25,475.68 290.64,475.08 291.03,474.48 291.42,473.88 291.81,473.28 292.19,472.68 292.58,472.08 292.96,471.48 293.35,470.87 293.73,470.27 294.11,469.67 294.49,469.07 294.88,468.47 295.26,467.87 295.64,467.26 296.01,466.66 296.39,466.07 296.77,465.47 297.15,464.87 297.53,464.27 297.91,463.68 298.29,463.08 298.67,462.49 299.05,461.9 299.43,461.31 299.81,460.72 300.19,460.13 300.57,459.54 300.95,458.96 301.33,458.38 301.71,457.8 302.09,457.22 302.48,456.65 302.86,456.07 303.25,455.5 303.63,454.93 304.02,454.37 304.41,453.81 304.8,453.25 305.2,452.69 305.6,452.15 306.01,451.62 306.43,451.11 306.87,450.61 307.33,450.14 307.81,449.7 308.31,449.29 308.84,448.91 309.41,448.57 310,448.27 310.63,448.02 311.3,447.82 312.01,447.66 312.77,447.56" fill="none" stroke="#ffa500" stroke-width="1.15" stroke-linejoin="round"/>
<path d="M190.9,530.5 L187.3,533.2 L181,539.2 L177.3,543.3 L170.9,548.7 L167.7,552.1 L164.1,554.5" fill="none" stroke="#228b22" stroke-width="1.15" stroke-dasharray="9 5" stroke-dashoffset="9"/>
<path d="M190.93,530.31 191.56,530.03 192.19,529.76 192.83,529.49 193.46,529.22 194.1,528.96 194.73,528.69 195.37,528.42 196.01,528.16 196.65,527.89 197.29,527.63 197.93,527.37 198.57,527.11 199.22,526.84 199.86,526.58 200.51,526.32 201.15,526.06 201.8,525.81 202.45,525.55 203.1,525.29 203.75,525.03 204.4,524.77 205.05,524.52 205.7,524.26 206.36,524.01 207.01,523.75 207.67,523.49 208.32,523.24 208.98,522.98 209.63,522.73 210.29,522.47 210.94,522.22 211.6,521.96 212.26,521.71 212.92,521.45 213.58,521.2 214.23,520.94 214.89,520.68 215.55,520.43 216.21,520.17 216.87,519.91 217.53,519.66 218.19,519.4 218.85,519.14 219.51,518.88 220.17,518.62 220.83,518.36 221.49,518.1 222.14,517.84 222.8,517.57 223.46,517.31 224.12,517.05 224.78,516.78 225.44,516.52 226.09,516.25 226.75,515.98 227.41,515.71 228.07,515.44 228.72,515.17 229.38,514.9 230.03,514.63 230.69,514.36 231.34,514.08 231.99,513.8 232.65,513.52 233.3,513.25 233.95,512.96 234.6,512.68 235.25,512.4 235.9,512.11 236.55,511.83 237.19,511.54 237.84,511.25 238.48,510.95 239.13,510.66 239.77,510.37 240.41,510.07 241.05,509.77 241.69,509.47 242.33,509.17 242.97,508.86 243.61,508.55 244.24,508.24 244.87,507.93 245.51,507.62 246.14,507.31 246.77,506.99 247.4,506.67 248.02,506.35 248.65,506.02 249.27,505.69 249.89,505.37 250.51,505.03 251.13,504.7 251.75,504.36 252.37,504.02 252.98,503.68 253.59,503.34 254.2,502.99 254.81,502.64 255.42,502.29 256.02,501.93 256.63,501.57 257.23,501.21 257.83,500.85 258.42,500.48 259.02,500.11 259.61,499.74 260.2,499.36 260.79,498.98 261.38,498.6 261.96,498.21 262.54,497.82 263.12,497.43 263.7,497.03 264.28,496.64 264.85,496.23 265.42,495.83 265.99,495.42 266.55,495 267.11,494.59 267.67,494.17 268.23,493.74 268.79,493.32 269.34,492.89 269.89,492.45 270.44,492.02 270.98,491.58 271.53,491.13 272.07,490.69 272.61,490.24 273.14,489.79 273.68,489.33 274.21,488.87 274.74,488.41 275.26,487.94 275.78,487.47 276.31,487 276.82,486.53 277.34,486.05 277.85,485.57 278.37,485.09 278.87,484.6 279.38,484.11 279.88,483.62 280.39,483.13 280.89,482.63 281.38,482.13 281.88,481.63 282.37,481.13 282.86,480.62 283.34,480.11 283.83,479.6 284.31,479.08 284.79,478.56 285.27,478.04 285.74,477.52 286.21,476.99 286.68,476.47 287.15,475.94 287.61,475.4 288.08,474.87 288.54,474.33 288.99,473.79 289.45,473.25 289.9,472.71 290.35,472.16 290.8,471.62 291.24,471.07 291.69,470.51 292.13,469.96 292.57,469.4 293,468.84 293.43,468.28 293.87,467.72 294.29,467.16 294.72,466.59 295.14,466.02 295.56,465.45 295.98,464.88 296.4,464.31 296.81,463.73 297.22,463.16 297.63,462.58 298.04,462 298.44,461.42 298.84,460.83 299.24,460.25 299.64,459.66 300.03,459.07 300.43,458.48 300.82,457.89 301.2,457.3 301.59,456.71 301.97,456.11 302.36,455.53 302.74,454.94 303.14,454.36 303.53,453.79 303.94,453.24 304.35,452.69 304.78,452.16 305.22,451.65 305.67,451.16 306.13,450.69 306.62,450.24 307.12,449.82 307.64,449.42 308.19,449.06 308.76,448.73 309.35,448.43 309.97,448.16 310.62,447.94 311.3,447.75 312.01,447.6 312.75,447.5" fill="none" stroke="#228b22" stroke-width="1.15" stroke-linejoin="round"/>
<path d="M190.9,524.2 L187.2,527.3 L181,533.5 L177.8,537.8 L171.4,544.2 L168.2,548.3 L164.1,551.5" fill="none" stroke="#0000ff" stroke-width="1.15" stroke-dasharray="9 5" stroke-dashoffset="9"/>
<path d="M190.99,524.23 191.61,523.91 192.23,523.6 192.85,523.28 193.47,522.97 194.09,522.66 194.71,522.36 195.34,522.05 195.96,521.75 196.59,521.45 197.22,521.15 197.85,520.86 198.49,520.56 199.12,520.27 199.76,519.98 200.39,519.69 201.03,519.4 201.67,519.12 202.31,518.83 202.95,518.55 203.59,518.27 204.24,517.99 204.88,517.72 205.53,517.44 206.17,517.17 206.82,516.89 207.47,516.62 208.12,516.35 208.77,516.08 209.42,515.81 210.07,515.54 210.72,515.28 211.37,515.01 212.03,514.74 212.68,514.48 213.34,514.22 213.99,513.95 214.65,513.69 215.31,513.43 215.96,513.17 216.62,512.91 217.28,512.65 217.94,512.39 218.59,512.13 219.25,511.87 219.91,511.61 220.57,511.35 221.23,511.09 221.89,510.84 222.55,510.58 223.21,510.32 223.87,510.06 224.53,509.8 225.19,509.54 225.85,509.29 226.51,509.03 227.17,508.77 227.83,508.51 228.49,508.25 229.15,507.99 229.81,507.72 230.47,507.46 231.13,507.2 231.78,506.94 232.44,506.67 233.1,506.41 233.76,506.14 234.41,505.87 235.07,505.61 235.72,505.34 236.38,505.07 237.03,504.8 237.69,504.53 238.34,504.25 238.99,503.98 239.64,503.7 240.29,503.43 240.94,503.15 241.59,502.87 242.24,502.58 242.89,502.3 243.54,502.02 244.18,501.73 244.83,501.44 245.47,501.15 246.11,500.86 246.75,500.57 247.39,500.27 248.03,499.97 248.67,499.67 249.3,499.37 249.94,499.07 250.57,498.76 251.21,498.45 251.84,498.14 252.47,497.83 253.09,497.51 253.72,497.2 254.35,496.88 254.97,496.55 255.59,496.23 256.21,495.9 256.83,495.57 257.45,495.23 258.06,494.9 258.68,494.56 259.29,494.21 259.9,493.87 260.51,493.52 261.11,493.17 261.72,492.81 262.32,492.46 262.92,492.09 263.52,491.73 264.12,491.36 264.71,490.99 265.3,490.62 265.89,490.24 266.48,489.86 267.07,489.47 267.65,489.08 268.23,488.69 268.81,488.29 269.39,487.89 269.96,487.49 270.53,487.09 271.1,486.68 271.67,486.27 272.24,485.85 272.8,485.43 273.36,485.01 273.92,484.58 274.48,484.15 275.03,483.72 275.58,483.29 276.13,482.85 276.68,482.41 277.23,481.96 277.77,481.52 278.31,481.07 278.85,480.61 279.38,480.16 279.91,479.7 280.45,479.24 280.97,478.77 281.5,478.3 282.02,477.83 282.54,477.36 283.06,476.88 283.58,476.4 284.09,475.92 284.6,475.44 285.11,474.95 285.62,474.46 286.12,473.97 286.62,473.47 287.12,472.97 287.62,472.47 288.11,471.97 288.61,471.46 289.09,470.95 289.58,470.44 290.06,469.93 290.55,469.41 291.02,468.9 291.5,468.38 291.97,467.85 292.44,467.33 292.91,466.8 293.38,466.27 293.84,465.74 294.3,465.2 294.76,464.66 295.22,464.13 295.67,463.58 296.12,463.04 296.56,462.49 297.01,461.95 297.45,461.4 297.89,460.84 298.33,460.29 298.76,459.73 299.19,459.18 299.62,458.62 300.05,458.05 300.47,457.49 300.89,456.92 301.31,456.36 301.72,455.79 302.14,455.22 302.55,454.66 302.97,454.1 303.4,453.55 303.83,453.01 304.26,452.49 304.71,451.97 305.16,451.48 305.63,451 306.11,450.54 306.6,450.1 307.11,449.69 307.63,449.3 308.18,448.94 308.74,448.61 309.32,448.31 309.93,448.05 310.56,447.82 311.22,447.63 311.9,447.48 312.62,447.37" fill="none" stroke="#0000ff" stroke-width="1.15" stroke-linejoin="round"/>
<path d="M190.9,520.6 L186.9,523.5 L180.5,529.6 L177.8,534.1 L171.4,540.5 L168.7,544.6 L164.1,549.2" fill="none" stroke="#a020f0" stroke-width="1.15" stroke-dasharray="9 5" stroke-dashoffset="9"/>
<path d="M191.11,520.69 191.73,520.38 192.34,520.07 192.95,519.77 193.57,519.47 194.19,519.17 194.81,518.87 195.43,518.57 196.05,518.28 196.68,517.98 197.31,517.69 197.93,517.4 198.56,517.11 199.19,516.82 199.83,516.54 200.46,516.25 201.1,515.97 201.73,515.69 202.37,515.4 203.01,515.12 203.65,514.84 204.29,514.57 204.93,514.29 205.57,514.01 206.22,513.74 206.86,513.47 207.51,513.19 208.16,512.92 208.81,512.65 209.46,512.38 210.11,512.11 210.76,511.84 211.41,511.57 212.06,511.3 212.72,511.04 213.37,510.77 214.03,510.5 214.68,510.24 215.34,509.97 215.99,509.71 216.65,509.44 217.31,509.18 217.97,508.91 218.63,508.65 219.29,508.39 219.95,508.12 220.61,507.86 221.27,507.6 221.93,507.33 222.59,507.07 223.25,506.81 223.91,506.54 224.57,506.28 225.23,506.02 225.89,505.75 226.56,505.49 227.22,505.22 227.88,504.96 228.54,504.69 229.2,504.43 229.86,504.16 230.53,503.89 231.19,503.62 231.85,503.36 232.51,503.09 233.17,502.82 233.83,502.55 234.49,502.28 235.15,502.01 235.81,501.73 236.47,501.46 237.13,501.19 237.78,500.91 238.44,500.63 239.1,500.36 239.75,500.08 240.41,499.8 241.06,499.52 241.72,499.24 242.37,498.95 243.02,498.67 243.68,498.38 244.33,498.1 244.98,497.81 245.63,497.52 246.28,497.23 246.92,496.93 247.57,496.64 248.22,496.34 248.86,496.04 249.5,495.74 250.15,495.44 250.79,495.14 251.43,494.84 252.07,494.53 252.7,494.22 253.34,493.91 253.97,493.6 254.61,493.28 255.24,492.97 255.87,492.65 256.5,492.33 257.13,492.01 257.75,491.68 258.38,491.35 259,491.02 259.62,490.69 260.24,490.36 260.86,490.02 261.48,489.68 262.09,489.34 262.71,489 263.32,488.65 263.93,488.3 264.53,487.95 265.14,487.59 265.74,487.24 266.35,486.88 266.95,486.51 267.54,486.15 268.14,485.78 268.73,485.41 269.32,485.03 269.91,484.66 270.5,484.27 271.09,483.89 271.67,483.5 272.25,483.11 272.83,482.72 273.4,482.32 273.98,481.92 274.55,481.52 275.12,481.11 275.68,480.7 276.24,480.29 276.81,479.87 277.36,479.45 277.92,479.03 278.47,478.6 279.02,478.17 279.57,477.73 280.12,477.3 280.66,476.85 281.2,476.41 281.73,475.96 282.27,475.5 282.8,475.04 283.32,474.58 283.85,474.12 284.37,473.65 284.89,473.17 285.41,472.69 285.92,472.21 286.43,471.72 286.93,471.23 287.44,470.74 287.94,470.24 288.43,469.73 288.93,469.22 289.42,468.71 289.9,468.19 290.38,467.67 290.86,467.15 291.34,466.61 291.81,466.08 292.28,465.54 292.75,464.99 293.21,464.44 293.67,463.89 294.12,463.33 294.57,462.76 295.02,462.19 295.46,461.62 295.9,461.04 296.34,460.46 296.78,459.88 297.22,459.3 297.66,458.72 298.09,458.15 298.53,457.58 298.97,457.01 299.42,456.45 299.86,455.9 300.31,455.35 300.77,454.82 301.23,454.29 301.7,453.78 302.17,453.28 302.65,452.8 303.14,452.33 303.63,451.87 304.14,451.44 304.66,451.02 305.18,450.63 305.72,450.25 306.27,449.9 306.84,449.57 307.41,449.27 308,448.99 308.6,448.74 309.22,448.51 309.85,448.31 310.49,448.13 311.14,447.98 311.8,447.86 312.47,447.76 313.15,447.68 313.84,447.63 314.54,447.61 315.24,447.61 315.96,447.63 316.68,447.68 317.4,447.75 318.13,447.83 318.86,447.92 319.59,448.02 320.33,448.12 321.06,448.23 321.79,448.32 322.52,448.41 323.25,448.48 323.97,448.53 324.68,448.57 325.39,448.57 326.09,448.55 326.77,448.49 327.45,448.39 328.12,448.25 328.77,448.06" fill="none" stroke="#a020f0" stroke-width="1.15" stroke-linejoin="round"/>
</g>
<rect x="160.0" y="437.4" width="183.39999999999998" height="210.39999999999998" fill="none" stroke="#000" stroke-width="1.3"/>
<line x1="452.6" y1="540.5" x2="636.4" y2="540.5" stroke="#777" stroke-width="1" />
<line x1="452.6" y1="517.2" x2="636.4" y2="517.2" stroke="#777" stroke-width="1" />
<line x1="452.6" y1="493.5" x2="636.4" y2="493.5" stroke="#777" stroke-width="1" />
<line x1="452.6" y1="470.4" x2="636.4" y2="470.4" stroke="#777" stroke-width="1" />
<line x1="452.6" y1="447" x2="636.4" y2="447" stroke="#777" stroke-width="1" />
<line x1="464.7" y1="437.4" x2="464.7" y2="563.6" stroke="#888" stroke-width="1" />
<line x1="521.8" y1="437.4" x2="521.8" y2="563.6" stroke="#888" stroke-width="1" />
<line x1="579" y1="437.4" x2="579" y2="563.6" stroke="#888" stroke-width="1" />
<line x1="636.4" y1="437.4" x2="636.4" y2="427.3" stroke="#000" stroke-width="1.0" />
<line x1="636.4" y1="563.6" x2="636.4" y2="573.7" stroke="#000" stroke-width="1.0" />
<line x1="607.72" y1="437.4" x2="607.72" y2="432" stroke="#000" stroke-width="1.0" />
<line x1="607.72" y1="563.6" x2="607.72" y2="569" stroke="#000" stroke-width="1.0" />
<line x1="579.04" y1="437.4" x2="579.04" y2="427.3" stroke="#000" stroke-width="1.0" />
<line x1="579.04" y1="563.6" x2="579.04" y2="573.7" stroke="#000" stroke-width="1.0" />
<line x1="550.36" y1="437.4" x2="550.36" y2="432" stroke="#000" stroke-width="1.0" />
<line x1="550.36" y1="563.6" x2="550.36" y2="569" stroke="#000" stroke-width="1.0" />
<line x1="521.68" y1="437.4" x2="521.68" y2="427.3" stroke="#000" stroke-width="1.0" />
<line x1="521.68" y1="563.6" x2="521.68" y2="573.7" stroke="#000" stroke-width="1.0" />
<line x1="493" y1="437.4" x2="493" y2="432" stroke="#000" stroke-width="1.0" />
<line x1="493" y1="563.6" x2="493" y2="569" stroke="#000" stroke-width="1.0" />
<line x1="464.32" y1="437.4" x2="464.32" y2="427.3" stroke="#000" stroke-width="1.0" />
<line x1="464.32" y1="563.6" x2="464.32" y2="573.7" stroke="#000" stroke-width="1.0" />
<line x1="452.6" y1="563.6" x2="442.5" y2="563.6" stroke="#000" stroke-width="1.0" />
<line x1="636.4" y1="563.6" x2="646.5" y2="563.6" stroke="#000" stroke-width="1.0" />
<line x1="452.6" y1="551.9" x2="447.2" y2="551.9" stroke="#000" stroke-width="1.0" />
<line x1="636.4" y1="551.9" x2="641.8" y2="551.9" stroke="#000" stroke-width="1.0" />
<line x1="452.6" y1="540.2" x2="442.5" y2="540.2" stroke="#000" stroke-width="1.0" />
<line x1="636.4" y1="540.2" x2="646.5" y2="540.2" stroke="#000" stroke-width="1.0" />
<line x1="452.6" y1="528.5" x2="447.2" y2="528.5" stroke="#000" stroke-width="1.0" />
<line x1="636.4" y1="528.5" x2="641.8" y2="528.5" stroke="#000" stroke-width="1.0" />
<line x1="452.6" y1="516.8" x2="442.5" y2="516.8" stroke="#000" stroke-width="1.0" />
<line x1="636.4" y1="516.8" x2="646.5" y2="516.8" stroke="#000" stroke-width="1.0" />
<line x1="452.6" y1="505.1" x2="447.2" y2="505.1" stroke="#000" stroke-width="1.0" />
<line x1="636.4" y1="505.1" x2="641.8" y2="505.1" stroke="#000" stroke-width="1.0" />
<line x1="452.6" y1="493.4" x2="442.5" y2="493.4" stroke="#000" stroke-width="1.0" />
<line x1="636.4" y1="493.4" x2="646.5" y2="493.4" stroke="#000" stroke-width="1.0" />
<line x1="452.6" y1="481.7" x2="447.2" y2="481.7" stroke="#000" stroke-width="1.0" />
<line x1="636.4" y1="481.7" x2="641.8" y2="481.7" stroke="#000" stroke-width="1.0" />
<line x1="452.6" y1="470" x2="442.5" y2="470" stroke="#000" stroke-width="1.0" />
<line x1="636.4" y1="470" x2="646.5" y2="470" stroke="#000" stroke-width="1.0" />
<line x1="452.6" y1="458.3" x2="447.2" y2="458.3" stroke="#000" stroke-width="1.0" />
<line x1="636.4" y1="458.3" x2="641.8" y2="458.3" stroke="#000" stroke-width="1.0" />
<line x1="452.6" y1="446.6" x2="442.5" y2="446.6" stroke="#000" stroke-width="1.0" />
<line x1="636.4" y1="446.6" x2="646.5" y2="446.6" stroke="#000" stroke-width="1.0" />
<text x="636.4" y="427.4" font-size="11.3" text-anchor="middle" fill="#000"  stroke="#000" stroke-width="0.25">0</text>
<text x="579.04" y="427.4" font-size="11.3" text-anchor="middle" fill="#000"  stroke="#000" stroke-width="0.25">100</text>
<text x="521.68" y="427.4" font-size="11.3" text-anchor="middle" fill="#000"  stroke="#000" stroke-width="0.25">200</text>
<text x="464.32" y="427.4" font-size="11.3" text-anchor="middle" fill="#000"  stroke="#000" stroke-width="0.25">300</text>
<text x="647.4" y="567.5" font-size="11.3" text-anchor="start" fill="#000"  stroke="#000" stroke-width="0.25">0</text>
<text x="647.4" y="544.1" font-size="11.3" text-anchor="start" fill="#000"  stroke="#000" stroke-width="0.25">10</text>
<text x="647.4" y="520.7" font-size="11.3" text-anchor="start" fill="#000"  stroke="#000" stroke-width="0.25">20</text>
<text x="647.4" y="497.3" font-size="11.3" text-anchor="start" fill="#000"  stroke="#000" stroke-width="0.25">30</text>
<text x="647.4" y="473.9" font-size="11.3" text-anchor="start" fill="#000"  stroke="#000" stroke-width="0.25">40</text>
<text x="647.4" y="450.5" font-size="11.3" text-anchor="start" fill="#000"  stroke="#000" stroke-width="0.25">50</text>
<text transform="translate(681.6,500.2) rotate(-90)" font-size="13.85" text-anchor="middle" stroke="#000" stroke-width="0.25">Cumulative slip deficit [m/600year]</text>
<text x="398.5" y="435.0" font-size="18.2" stroke="#000" stroke-width="0.25">(e)</text>
<path d="M481.3,545 L477,547.1 L469.5,551.7 L464.7,554.3 L457.3,558.1" fill="none" stroke="#000" stroke-width="1.3" stroke-dasharray="9 5" stroke-dashoffset="9"/>
<path d="M481.3,545.04 481.96,544.77 482.61,544.5 483.27,544.23 483.93,543.97 484.6,543.72 485.26,543.47 485.92,543.22 486.59,542.98 487.25,542.74 487.92,542.51 488.58,542.28 489.25,542.05 489.92,541.82 490.59,541.6 491.26,541.39 491.93,541.17 492.6,540.96 493.27,540.75 493.94,540.55 494.62,540.34 495.29,540.14 495.96,539.95 496.64,539.75 497.31,539.55 497.99,539.36 498.66,539.17 499.34,538.98 500.02,538.79 500.69,538.61 501.37,538.42 502.05,538.24 502.72,538.05 503.4,537.87 504.08,537.69 504.76,537.51 505.43,537.32 506.11,537.14 506.79,536.96 507.47,536.78 508.15,536.6 508.83,536.42 509.5,536.24 510.18,536.05 510.86,535.87 511.54,535.69 512.21,535.5 512.89,535.31 513.57,535.13 514.24,534.94 514.92,534.75 515.6,534.55 516.27,534.36 516.95,534.16 517.62,533.97 518.3,533.77 518.97,533.56 519.65,533.36 520.32,533.15 520.99,532.94 521.66,532.73 522.34,532.51 523.01,532.29 523.68,532.07 524.35,531.84 525.01,531.62 525.68,531.39 526.35,531.15 527.02,530.92 527.68,530.68 528.34,530.44 529.01,530.19 529.67,529.95 530.33,529.69 530.99,529.44 531.65,529.18 532.31,528.92 532.96,528.66 533.62,528.4 534.27,528.13 534.92,527.85 535.58,527.58 536.23,527.3 536.87,527.02 537.52,526.73 538.16,526.45 538.81,526.15 539.45,525.86 540.09,525.56 540.73,525.26 541.37,524.95 542,524.65 542.63,524.34 543.27,524.02 543.89,523.7 544.52,523.38 545.15,523.05 545.77,522.73 546.39,522.39 547.01,522.06 547.63,521.72 548.24,521.37 548.86,521.03 549.47,520.68 550.08,520.32 550.68,519.97 551.29,519.6 551.89,519.24 552.49,518.87 553.08,518.5 553.68,518.12 554.27,517.74 554.86,517.36 555.44,516.97 556.03,516.58 556.61,516.18 557.19,515.78 557.76,515.38 558.34,514.97 558.9,514.56 559.47,514.14 560.04,513.72 560.6,513.3 561.15,512.87 561.71,512.44 562.26,512.01 562.81,511.57 563.36,511.12 563.9,510.67 564.44,510.22 564.97,509.77 565.51,509.31 566.03,508.84 566.56,508.37 567.08,507.9 567.6,507.42 568.12,506.94 568.63,506.46 569.14,505.97 569.64,505.48 570.14,504.98 570.64,504.48 571.13,503.98 571.62,503.47 572.11,502.96 572.59,502.44 573.07,501.92 573.54,501.4 574.01,500.87 574.47,500.34 574.93,499.81 575.39,499.27 575.84,498.73 576.29,498.19 576.74,497.64 577.18,497.09 577.61,496.53 578.04,495.97 578.47,495.41 578.89,494.85 579.31,494.28 579.72,493.71 580.13,493.13 580.53,492.56 580.93,491.97 581.32,491.39 581.71,490.8 582.09,490.21 582.47,489.62 582.84,489.02 583.21,488.42 583.58,487.82 583.93,487.21 584.29,486.6 584.63,485.99 584.98,485.38 585.31,484.76 585.65,484.14 585.97,483.52 586.29,482.89 586.61,482.26 586.92,481.63 587.22,481 587.52,480.36 587.82,479.72 588.1,479.08 588.38,478.43 588.66,477.79 588.93,477.14 589.19,476.49 589.45,475.83 589.71,475.18 589.96,474.52 590.2,473.86 590.45,473.2 590.68,472.53 590.92,471.87 591.15,471.21 591.39,470.54 591.62,469.87 591.84,469.21 592.07,468.54 592.3,467.88 592.53,467.21 592.75,466.54 592.98,465.88 593.21,465.22 593.44,464.55 593.67,463.89 593.91,463.23 594.14,462.57 594.38,461.91 594.63,461.26 594.87,460.61 595.12,459.95 595.38,459.31 595.64,458.66 595.91,458.02 596.18,457.38 596.45,456.74 596.74,456.11 597.03,455.48 597.33,454.85 597.63,454.23 597.95,453.61 598.27,453 598.6,452.39 598.94,451.79 599.29,451.19 599.65,450.59 600.02,450 600.4,449.42" fill="none" stroke="#000" stroke-width="1.3"/>
<path d="M600.8,449.6 L603.4,449.1 L605.5,449.5 L609.2,447.7 L615,447.3 L617.2,448.2 L619.4,447.7 L621.6,447.3" fill="none" stroke="#000" stroke-width="1.3" stroke-linejoin="round"/>
<rect x="452.6" y="437.4" width="183.79999999999995" height="126.20000000000005" fill="none" stroke="#000" stroke-width="1.3"/>
<rect x="5.5" y="459.5" width="103" height="149" fill="#fff" stroke="#888" stroke-width="1"/>
<text x="36" y="475.2" font-size="15.2" stroke="#000" stroke-width="0.25">Legend</text>
<text x="77.5" y="490.5" font-size="16.5" font-family="Liberation Serif, serif" font-style="italic" stroke="#000" stroke-width="0.25">t<tspan dx="1.1" dy="-1.2">’</tspan></text>
<line x1="15.3" y1="500.5" x2="46.3" y2="500.5" stroke="#00ff00" stroke-width="1.15" />
<text x="105.9" y="505.1" font-size="12.9" text-anchor="end" fill="#00ff00"  stroke="#00ff00" stroke-width="0.25">50 year</text>
<line x1="15.3" y1="515.97" x2="46.3" y2="515.97" stroke="#ff00ff" stroke-width="1.15" />
<text x="105.9" y="520.57" font-size="12.9" text-anchor="end" fill="#ff00ff"  stroke="#ff00ff" stroke-width="0.25">100 year</text>
<line x1="15.3" y1="531.44" x2="46.3" y2="531.44" stroke="#ff0000" stroke-width="1.15" />
<text x="105.9" y="536.04" font-size="12.9" text-anchor="end" fill="#ff0000"  stroke="#ff0000" stroke-width="0.25">200 year</text>
<line x1="15.3" y1="546.91" x2="46.3" y2="546.91" stroke="#ffa500" stroke-width="1.15" />
<text x="105.9" y="551.51" font-size="12.9" text-anchor="end" fill="#ffa500"  stroke="#ffa500" stroke-width="0.25">300 year</text>
<line x1="15.3" y1="562.38" x2="46.3" y2="562.38" stroke="#228b22" stroke-width="1.15" />
<text x="105.9" y="566.98" font-size="12.9" text-anchor="end" fill="#228b22"  stroke="#228b22" stroke-width="0.25">400 year</text>
<line x1="15.3" y1="577.85" x2="46.3" y2="577.85" stroke="#0000ff" stroke-width="1.15" />
<text x="105.9" y="582.45" font-size="12.9" text-anchor="end" fill="#0000ff"  stroke="#0000ff" stroke-width="0.25">500 year</text>
<line x1="15.3" y1="593.32" x2="46.3" y2="593.32" stroke="#a020f0" stroke-width="1.15" />
<text x="105.9" y="597.92" font-size="12.9" text-anchor="end" fill="#a020f0"  stroke="#a020f0" stroke-width="0.25">600 year</text>
</svg></body></html>
